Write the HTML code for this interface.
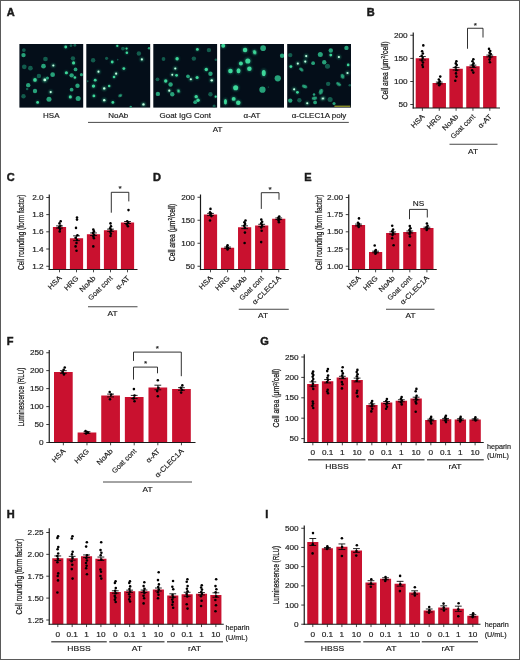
<!DOCTYPE html>
<html lang="en"><head><meta charset="utf-8"><title>Figure</title>
<style>html,body{margin:0;padding:0;background:#fff}svg{display:block;will-change:transform}text{font-family:"Liberation Sans",sans-serif;fill:#1a1a1a;stroke:#1a1a1a;stroke-width:.16px}.b{stroke-width:.45px}.t{stroke-width:.24px}</style></head><body>
<svg width="520" height="660" viewBox="0 0 520 660">
<rect x="0" y="0" width="520" height="660" fill="#fff"/>
<text transform="translate(6.8,16.3) scale(1.04,1)" font-size="10.6" text-anchor="start" font-weight="bold" class="b">A</text>
<defs><filter id="bl" x="-50%" y="-50%" width="200%" height="200%"><feGaussianBlur stdDeviation="0.55"/></filter><filter id="bl2" x="-50%" y="-50%" width="200%" height="200%"><feGaussianBlur stdDeviation="0.9"/></filter><filter id="bl3" x="-50%" y="-50%" width="200%" height="200%"><feGaussianBlur stdDeviation="0.7"/></filter></defs>
<clipPath id="cp0"><rect x="19.4" y="44" width="63.8" height="63.6"/></clipPath>
<rect x="19.4" y="44" width="63.8" height="63.6" fill="#040e19"/>
<g clip-path="url(#cp0)">
<ellipse cx="23.88" cy="50.11" rx="1.88" ry="1.88" fill="#18705a" opacity="0.8" filter="url(#bl3)"/>
<ellipse cx="23.49" cy="55.08" rx="2.2" ry="2.2" fill="#29ae82" opacity="0.92" filter="url(#bl3)"/>
<ellipse cx="65.73" cy="46.97" rx="1.88" ry="1.88" fill="#1c8e6c" opacity="0.55" filter="url(#bl2)"/>
<ellipse cx="65.73" cy="46.97" rx="1.41" ry="1.41" fill="#41df9f" opacity="0.95" filter="url(#bl)"/>
<ellipse cx="70.96" cy="45.66" rx="1.41" ry="1.41" fill="#18705a" opacity="0.8" filter="url(#bl3)"/>
<ellipse cx="74.88" cy="45.27" rx="1.41" ry="1.41" fill="#18705a" opacity="0.8" filter="url(#bl3)"/>
<ellipse cx="45.46" cy="59" rx="2.35" ry="2.35" fill="#18705a" opacity="0.8" filter="url(#bl3)"/>
<ellipse cx="72.92" cy="58.35" rx="2.2" ry="2.2" fill="#18705a" opacity="0.8" filter="url(#bl3)"/>
<ellipse cx="73.58" cy="62.92" rx="2.07" ry="2.07" fill="#1c8e6c" opacity="0.55" filter="url(#bl2)"/>
<ellipse cx="73.58" cy="62.92" rx="1.55" ry="1.55" fill="#41df9f" opacity="0.95" filter="url(#bl)"/>
<ellipse cx="53.31" cy="65.54" rx="1.77" ry="1.77" fill="#2bb687" opacity="0.75" filter="url(#bl2)"/>
<ellipse cx="53.31" cy="65.54" rx="1.06" ry="1.06" fill="#c6ffe2" opacity="1" filter="url(#bl)"/>
<ellipse cx="43.5" cy="66.19" rx="2.35" ry="2.35" fill="#29ae82" opacity="0.92" filter="url(#bl3)"/>
<ellipse cx="24.28" cy="66.85" rx="2.35" ry="2.35" fill="#18705a" opacity="0.8" filter="url(#bl3)"/>
<ellipse cx="30.42" cy="68.15" rx="2.35" ry="2.35" fill="#18705a" opacity="0.8" filter="url(#bl3)"/>
<ellipse cx="75.54" cy="69.46" rx="1.88" ry="1.88" fill="#29ae82" opacity="0.92" filter="url(#bl3)"/>
<ellipse cx="66.38" cy="72.73" rx="2.07" ry="2.07" fill="#1c8e6c" opacity="0.55" filter="url(#bl2)"/>
<ellipse cx="66.38" cy="72.73" rx="1.55" ry="1.55" fill="#41df9f" opacity="0.95" filter="url(#bl)"/>
<ellipse cx="81.42" cy="74.69" rx="1.57" ry="1.57" fill="#29ae82" opacity="0.92" filter="url(#bl3)"/>
<ellipse cx="71.62" cy="75.35" rx="2.2" ry="2.2" fill="#29ae82" opacity="0.92" filter="url(#bl3)"/>
<ellipse cx="74.88" cy="77.57" rx="1.69" ry="1.69" fill="#1c8e6c" opacity="0.55" filter="url(#bl2)"/>
<ellipse cx="74.88" cy="77.57" rx="1.27" ry="1.27" fill="#41df9f" opacity="0.95" filter="url(#bl)"/>
<ellipse cx="52.65" cy="74.69" rx="2.35" ry="2.35" fill="#29ae82" opacity="0.92" filter="url(#bl3)"/>
<ellipse cx="38.92" cy="76" rx="2.2" ry="2.2" fill="#18705a" opacity="0.8" filter="url(#bl3)"/>
<ellipse cx="35" cy="79.92" rx="2.45" ry="2.45" fill="#1c8e6c" opacity="0.55" filter="url(#bl2)"/>
<ellipse cx="35" cy="79.92" rx="1.84" ry="1.84" fill="#41df9f" opacity="0.95" filter="url(#bl)"/>
<ellipse cx="44.81" cy="79.92" rx="2.35" ry="2.35" fill="#2bb687" opacity="0.75" filter="url(#bl2)"/>
<ellipse cx="44.81" cy="79.92" rx="1.41" ry="1.41" fill="#c6ffe2" opacity="1" filter="url(#bl)"/>
<ellipse cx="47.42" cy="77.96" rx="1.57" ry="1.57" fill="#29ae82" opacity="0.92" filter="url(#bl3)"/>
<ellipse cx="28.2" cy="85.15" rx="2.2" ry="2.2" fill="#29ae82" opacity="0.92" filter="url(#bl3)"/>
<ellipse cx="77.5" cy="85.81" rx="2.2" ry="2.2" fill="#29ae82" opacity="0.92" filter="url(#bl3)"/>
<ellipse cx="71.62" cy="89.73" rx="1.88" ry="1.88" fill="#29ae82" opacity="0.92" filter="url(#bl3)"/>
<ellipse cx="35" cy="91.04" rx="2.2" ry="2.2" fill="#29ae82" opacity="0.92" filter="url(#bl3)"/>
<ellipse cx="50.69" cy="92.08" rx="1.77" ry="1.77" fill="#2bb687" opacity="0.75" filter="url(#bl2)"/>
<ellipse cx="50.69" cy="92.08" rx="1.06" ry="1.06" fill="#c6ffe2" opacity="1" filter="url(#bl)"/>
<ellipse cx="23.49" cy="96.27" rx="2.2" ry="2.2" fill="#18705a" opacity="0.8" filter="url(#bl3)"/>
<ellipse cx="70.31" cy="96.92" rx="2.07" ry="2.07" fill="#1c8e6c" opacity="0.55" filter="url(#bl2)"/>
<ellipse cx="70.31" cy="96.92" rx="1.55" ry="1.55" fill="#41df9f" opacity="0.95" filter="url(#bl)"/>
<ellipse cx="78.15" cy="98.49" rx="2.51" ry="2.51" fill="#29ae82" opacity="0.92" filter="url(#bl3)"/>
<ellipse cx="48.99" cy="99.15" rx="2.51" ry="2.51" fill="#29ae82" opacity="0.92" filter="url(#bl3)"/>
<ellipse cx="37.62" cy="102.42" rx="1.88" ry="1.88" fill="#1c8e6c" opacity="0.55" filter="url(#bl2)"/>
<ellipse cx="37.62" cy="102.42" rx="1.41" ry="1.41" fill="#41df9f" opacity="0.95" filter="url(#bl)"/>
<ellipse cx="27.15" cy="89.08" rx="1.26" ry="1.26" fill="#18705a" opacity="0.8" filter="url(#bl3)"/>
</g>
<clipPath id="cp1"><rect x="86.3" y="44" width="63.9" height="63.6"/></clipPath>
<rect x="86.3" y="44" width="63.9" height="63.6" fill="#040e19"/>
<g clip-path="url(#cp1)">
<ellipse cx="117.3" cy="45.92" rx="1.51" ry="1.51" fill="#1c8e6c" opacity="0.55" filter="url(#bl2)"/>
<ellipse cx="117.3" cy="45.92" rx="1.13" ry="1.13" fill="#41df9f" opacity="0.95" filter="url(#bl)"/>
<ellipse cx="122.92" cy="48.54" rx="1.88" ry="1.88" fill="#18705a" opacity="0.8" filter="url(#bl3)"/>
<ellipse cx="126.58" cy="48.54" rx="1.51" ry="1.51" fill="#1c8e6c" opacity="0.55" filter="url(#bl2)"/>
<ellipse cx="126.58" cy="48.54" rx="1.13" ry="1.13" fill="#41df9f" opacity="0.95" filter="url(#bl)"/>
<ellipse cx="126.85" cy="52.72" rx="1.69" ry="1.69" fill="#1c8e6c" opacity="0.55" filter="url(#bl2)"/>
<ellipse cx="126.85" cy="52.72" rx="1.27" ry="1.27" fill="#41df9f" opacity="0.95" filter="url(#bl)"/>
<ellipse cx="149.08" cy="48.28" rx="1.26" ry="1.26" fill="#29ae82" opacity="0.92" filter="url(#bl3)"/>
<ellipse cx="138.88" cy="53.51" rx="2.2" ry="2.2" fill="#18705a" opacity="0.8" filter="url(#bl3)"/>
<ellipse cx="141.88" cy="59.39" rx="1.77" ry="1.77" fill="#2bb687" opacity="0.75" filter="url(#bl2)"/>
<ellipse cx="141.88" cy="59.39" rx="1.06" ry="1.06" fill="#c6ffe2" opacity="1" filter="url(#bl)"/>
<ellipse cx="93.11" cy="60.31" rx="2.2" ry="2.2" fill="#18705a" opacity="0.8" filter="url(#bl3)"/>
<ellipse cx="106.58" cy="58.35" rx="1.57" ry="1.57" fill="#18705a" opacity="0.8" filter="url(#bl3)"/>
<ellipse cx="112.2" cy="62.01" rx="1.88" ry="1.88" fill="#1c8e6c" opacity="0.55" filter="url(#bl2)"/>
<ellipse cx="112.2" cy="62.01" rx="1.41" ry="1.41" fill="#41df9f" opacity="0.95" filter="url(#bl)"/>
<ellipse cx="117.69" cy="59.65" rx="0.78" ry="0.78" fill="#18705a" opacity="0.8" filter="url(#bl3)"/>
<ellipse cx="123.84" cy="68.55" rx="1.88" ry="1.88" fill="#1c8e6c" opacity="0.55" filter="url(#bl2)"/>
<ellipse cx="123.84" cy="68.55" rx="1.41" ry="1.41" fill="#41df9f" opacity="0.95" filter="url(#bl)"/>
<ellipse cx="98.47" cy="71.68" rx="1.77" ry="1.77" fill="#2bb687" opacity="0.75" filter="url(#bl2)"/>
<ellipse cx="98.47" cy="71.68" rx="1.06" ry="1.06" fill="#c6ffe2" opacity="1" filter="url(#bl)"/>
<ellipse cx="116.12" cy="73.65" rx="1.77" ry="1.77" fill="#2bb687" opacity="0.75" filter="url(#bl2)"/>
<ellipse cx="116.12" cy="73.65" rx="1.06" ry="1.06" fill="#c6ffe2" opacity="1" filter="url(#bl)"/>
<ellipse cx="114.03" cy="77.05" rx="1.69" ry="1.69" fill="#1c8e6c" opacity="0.55" filter="url(#bl2)"/>
<ellipse cx="114.03" cy="77.05" rx="1.27" ry="1.27" fill="#41df9f" opacity="0.95" filter="url(#bl)"/>
<ellipse cx="95.2" cy="80.18" rx="1.88" ry="1.88" fill="#1c8e6c" opacity="0.55" filter="url(#bl2)"/>
<ellipse cx="95.2" cy="80.18" rx="1.41" ry="1.41" fill="#41df9f" opacity="0.95" filter="url(#bl)"/>
<ellipse cx="93.5" cy="86.07" rx="2.26" ry="2.26" fill="#1c8e6c" opacity="0.55" filter="url(#bl2)"/>
<ellipse cx="93.5" cy="86.07" rx="1.69" ry="1.69" fill="#41df9f" opacity="0.95" filter="url(#bl)"/>
<ellipse cx="109.19" cy="86.07" rx="1.69" ry="1.69" fill="#1c8e6c" opacity="0.55" filter="url(#bl2)"/>
<ellipse cx="109.19" cy="86.07" rx="1.27" ry="1.27" fill="#41df9f" opacity="0.95" filter="url(#bl)"/>
<ellipse cx="104.22" cy="88.42" rx="1.96" ry="1.96" fill="#2bb687" opacity="0.75" filter="url(#bl2)"/>
<ellipse cx="104.22" cy="88.42" rx="1.18" ry="1.18" fill="#c6ffe2" opacity="1" filter="url(#bl)"/>
<ellipse cx="93.89" cy="95.88" rx="1.88" ry="1.88" fill="#1c8e6c" opacity="0.55" filter="url(#bl2)"/>
<ellipse cx="93.89" cy="95.88" rx="1.41" ry="1.41" fill="#41df9f" opacity="0.95" filter="url(#bl)"/>
<ellipse cx="120.31" cy="95.62" rx="2.04" ry="1.26" fill="#29ae82" opacity="0.92" filter="url(#bl3)" transform="rotate(-25 120.31 95.62)"/>
<ellipse cx="104.22" cy="100.19" rx="1.96" ry="1.96" fill="#2bb687" opacity="0.75" filter="url(#bl2)"/>
<ellipse cx="104.22" cy="100.19" rx="1.18" ry="1.18" fill="#c6ffe2" opacity="1" filter="url(#bl)"/>
<ellipse cx="112.85" cy="102.42" rx="1.88" ry="1.88" fill="#1c8e6c" opacity="0.55" filter="url(#bl2)"/>
<ellipse cx="112.85" cy="102.42" rx="1.41" ry="1.41" fill="#41df9f" opacity="0.95" filter="url(#bl)"/>
<ellipse cx="143.45" cy="104.38" rx="1.96" ry="1.96" fill="#2bb687" opacity="0.75" filter="url(#bl2)"/>
<ellipse cx="143.45" cy="104.38" rx="1.18" ry="1.18" fill="#c6ffe2" opacity="1" filter="url(#bl)"/>
<ellipse cx="130.77" cy="106.99" rx="1.26" ry="1.26" fill="#29ae82" opacity="0.92" filter="url(#bl3)"/>
<ellipse cx="87.62" cy="81.23" rx="0.94" ry="0.94" fill="#18705a" opacity="0.8" filter="url(#bl3)"/>
</g>
<clipPath id="cp2"><rect x="153.3" y="44" width="63.8" height="63.6"/></clipPath>
<rect x="153.3" y="44" width="63.8" height="63.6" fill="#040e19"/>
<g clip-path="url(#cp2)">
<ellipse cx="197.38" cy="49.45" rx="1.88" ry="1.88" fill="#1c8e6c" opacity="0.55" filter="url(#bl2)"/>
<ellipse cx="197.38" cy="49.45" rx="1.41" ry="1.41" fill="#41df9f" opacity="0.95" filter="url(#bl)"/>
<ellipse cx="208.88" cy="50.11" rx="2.2" ry="2.2" fill="#18705a" opacity="0.8" filter="url(#bl3)"/>
<ellipse cx="163.51" cy="59" rx="1.88" ry="1.88" fill="#18705a" opacity="0.8" filter="url(#bl3)"/>
<ellipse cx="177.11" cy="58.74" rx="2.26" ry="2.26" fill="#1c8e6c" opacity="0.55" filter="url(#bl2)"/>
<ellipse cx="177.11" cy="58.74" rx="1.69" ry="1.69" fill="#41df9f" opacity="0.95" filter="url(#bl)"/>
<ellipse cx="193.85" cy="58.61" rx="2.2" ry="2.2" fill="#18705a" opacity="0.8" filter="url(#bl3)"/>
<ellipse cx="215.82" cy="59.65" rx="1.26" ry="1.26" fill="#18705a" opacity="0.8" filter="url(#bl3)"/>
<ellipse cx="175.28" cy="68.55" rx="1.77" ry="1.77" fill="#2bb687" opacity="0.75" filter="url(#bl2)"/>
<ellipse cx="175.28" cy="68.55" rx="1.06" ry="1.06" fill="#c6ffe2" opacity="1" filter="url(#bl)"/>
<ellipse cx="206.27" cy="69.46" rx="2.26" ry="2.26" fill="#1c8e6c" opacity="0.55" filter="url(#bl2)"/>
<ellipse cx="206.27" cy="69.46" rx="1.69" ry="1.69" fill="#41df9f" opacity="0.95" filter="url(#bl)"/>
<ellipse cx="172.27" cy="74.69" rx="1.57" ry="1.57" fill="#2bb687" opacity="0.75" filter="url(#bl2)"/>
<ellipse cx="172.27" cy="74.69" rx="0.94" ry="0.94" fill="#c6ffe2" opacity="1" filter="url(#bl)"/>
<ellipse cx="176.58" cy="75.35" rx="1.88" ry="1.88" fill="#1c8e6c" opacity="0.55" filter="url(#bl2)"/>
<ellipse cx="176.58" cy="75.35" rx="1.41" ry="1.41" fill="#41df9f" opacity="0.95" filter="url(#bl)"/>
<ellipse cx="210.45" cy="73.78" rx="2.2" ry="2.2" fill="#29ae82" opacity="0.92" filter="url(#bl3)"/>
<ellipse cx="187.96" cy="76.26" rx="1.88" ry="1.88" fill="#29ae82" opacity="0.92" filter="url(#bl3)"/>
<ellipse cx="197.12" cy="77.57" rx="2.07" ry="2.07" fill="#1c8e6c" opacity="0.55" filter="url(#bl2)"/>
<ellipse cx="197.12" cy="77.57" rx="1.55" ry="1.55" fill="#41df9f" opacity="0.95" filter="url(#bl)"/>
<ellipse cx="190.84" cy="79.27" rx="1.77" ry="1.77" fill="#2bb687" opacity="0.75" filter="url(#bl2)"/>
<ellipse cx="190.84" cy="79.27" rx="1.06" ry="1.06" fill="#c6ffe2" opacity="1" filter="url(#bl)"/>
<ellipse cx="211.76" cy="80.32" rx="1.96" ry="1.96" fill="#2bb687" opacity="0.75" filter="url(#bl2)"/>
<ellipse cx="211.76" cy="80.32" rx="1.18" ry="1.18" fill="#c6ffe2" opacity="1" filter="url(#bl)"/>
<ellipse cx="157.49" cy="79.27" rx="1.88" ry="1.88" fill="#18705a" opacity="0.8" filter="url(#bl3)"/>
<ellipse cx="165.73" cy="80.97" rx="2.26" ry="2.26" fill="#1c8e6c" opacity="0.55" filter="url(#bl2)"/>
<ellipse cx="165.73" cy="80.97" rx="1.69" ry="1.69" fill="#41df9f" opacity="0.95" filter="url(#bl)"/>
<ellipse cx="170.57" cy="84.5" rx="2.2" ry="2.2" fill="#29ae82" opacity="0.92" filter="url(#bl3)"/>
<ellipse cx="169.26" cy="90.65" rx="1.77" ry="1.77" fill="#2bb687" opacity="0.75" filter="url(#bl2)"/>
<ellipse cx="169.26" cy="90.65" rx="1.06" ry="1.06" fill="#c6ffe2" opacity="1" filter="url(#bl)"/>
<ellipse cx="178.55" cy="91.04" rx="1.69" ry="2.26" fill="#1c8e6c" opacity="0.55" filter="url(#bl2)" transform="rotate(-20 178.55 91.04)"/>
<ellipse cx="178.55" cy="91.04" rx="1.27" ry="1.69" fill="#41df9f" opacity="0.95" filter="url(#bl)" transform="rotate(-20 178.55 91.04)"/>
<ellipse cx="157.88" cy="93.92" rx="2.2" ry="2.2" fill="#29ae82" opacity="0.92" filter="url(#bl3)"/>
<ellipse cx="172.27" cy="94.31" rx="2.2" ry="2.2" fill="#29ae82" opacity="0.92" filter="url(#bl3)"/>
<ellipse cx="210.45" cy="94.31" rx="2.2" ry="2.2" fill="#18705a" opacity="0.8" filter="url(#bl3)"/>
<ellipse cx="215.68" cy="96.66" rx="1.51" ry="1.51" fill="#1c8e6c" opacity="0.55" filter="url(#bl2)"/>
<ellipse cx="215.68" cy="96.66" rx="1.13" ry="1.13" fill="#41df9f" opacity="0.95" filter="url(#bl)"/>
<ellipse cx="196.2" cy="96.66" rx="2.26" ry="2.26" fill="#1c8e6c" opacity="0.55" filter="url(#bl2)"/>
<ellipse cx="196.2" cy="96.66" rx="1.69" ry="1.69" fill="#41df9f" opacity="0.95" filter="url(#bl)"/>
<ellipse cx="198.03" cy="100.19" rx="2.26" ry="2.26" fill="#1c8e6c" opacity="0.55" filter="url(#bl2)"/>
<ellipse cx="198.03" cy="100.19" rx="1.69" ry="1.69" fill="#41df9f" opacity="0.95" filter="url(#bl)"/>
<ellipse cx="195.15" cy="102.15" rx="1.88" ry="1.88" fill="#29ae82" opacity="0.92" filter="url(#bl3)"/>
<ellipse cx="214.12" cy="106.08" rx="1.57" ry="1.57" fill="#18705a" opacity="0.8" filter="url(#bl3)"/>
</g>
<clipPath id="cp3"><rect x="220.2" y="44" width="63.8" height="63.6"/></clipPath>
<rect x="220.2" y="44" width="63.8" height="63.6" fill="#040e19"/>
<g clip-path="url(#cp3)">
<ellipse cx="223.23" cy="45.66" rx="2.64" ry="2.64" fill="#1c8e6c" opacity="0.55" filter="url(#bl2)"/>
<ellipse cx="223.23" cy="45.66" rx="1.98" ry="1.98" fill="#41df9f" opacity="0.95" filter="url(#bl)"/>
<ellipse cx="245.07" cy="50.11" rx="3.01" ry="3.01" fill="#1c8e6c" opacity="0.55" filter="url(#bl2)"/>
<ellipse cx="245.07" cy="50.11" rx="2.26" ry="2.26" fill="#41df9f" opacity="0.95" filter="url(#bl)"/>
<ellipse cx="263.12" cy="48.15" rx="2.82" ry="2.82" fill="#29ae82" opacity="0.92" filter="url(#bl3)"/>
<ellipse cx="254.62" cy="52.2" rx="2.26" ry="3.01" fill="#1c8e6c" opacity="0.55" filter="url(#bl2)" transform="rotate(-20 254.62 52.2)"/>
<ellipse cx="254.62" cy="52.2" rx="1.69" ry="2.26" fill="#41df9f" opacity="0.95" filter="url(#bl)" transform="rotate(-20 254.62 52.2)"/>
<ellipse cx="282.08" cy="55.73" rx="2.2" ry="2.2" fill="#29ae82" opacity="0.92" filter="url(#bl3)"/>
<ellipse cx="247.82" cy="60.96" rx="3.39" ry="3.39" fill="#1c8e6c" opacity="0.55" filter="url(#bl2)"/>
<ellipse cx="247.82" cy="60.96" rx="2.54" ry="2.54" fill="#41df9f" opacity="0.95" filter="url(#bl)"/>
<ellipse cx="240.88" cy="63.58" rx="2.64" ry="2.64" fill="#1c8e6c" opacity="0.55" filter="url(#bl2)"/>
<ellipse cx="240.88" cy="63.58" rx="1.98" ry="1.98" fill="#41df9f" opacity="0.95" filter="url(#bl)"/>
<ellipse cx="249.38" cy="68.81" rx="3.01" ry="3.01" fill="#1c8e6c" opacity="0.55" filter="url(#bl2)"/>
<ellipse cx="249.38" cy="68.81" rx="2.26" ry="2.26" fill="#41df9f" opacity="0.95" filter="url(#bl)"/>
<ellipse cx="230.42" cy="71.03" rx="3.01" ry="3.01" fill="#1c8e6c" opacity="0.55" filter="url(#bl2)"/>
<ellipse cx="230.42" cy="71.03" rx="2.26" ry="2.26" fill="#41df9f" opacity="0.95" filter="url(#bl)"/>
<ellipse cx="238.53" cy="70.77" rx="2.64" ry="3.39" fill="#1c8e6c" opacity="0.55" filter="url(#bl2)"/>
<ellipse cx="238.53" cy="70.77" rx="1.98" ry="2.54" fill="#41df9f" opacity="0.95" filter="url(#bl)"/>
<ellipse cx="263.77" cy="72.99" rx="2.64" ry="4.14" fill="#1c8e6c" opacity="0.55" filter="url(#bl2)"/>
<ellipse cx="263.77" cy="72.99" rx="1.98" ry="3.11" fill="#41df9f" opacity="0.95" filter="url(#bl)"/>
<ellipse cx="277.76" cy="78.35" rx="3.14" ry="3.14" fill="#29ae82" opacity="0.92" filter="url(#bl3)"/>
<ellipse cx="235.65" cy="87.77" rx="3.39" ry="3.39" fill="#1c8e6c" opacity="0.55" filter="url(#bl2)"/>
<ellipse cx="235.65" cy="87.77" rx="2.54" ry="2.54" fill="#41df9f" opacity="0.95" filter="url(#bl)"/>
<ellipse cx="262.46" cy="89.73" rx="3.14" ry="3.14" fill="#29ae82" opacity="0.92" filter="url(#bl3)"/>
<ellipse cx="225.45" cy="101.76" rx="2.07" ry="3.77" fill="#1c8e6c" opacity="0.55" filter="url(#bl2)"/>
<ellipse cx="225.45" cy="101.76" rx="1.55" ry="2.82" fill="#41df9f" opacity="0.95" filter="url(#bl)"/>
<ellipse cx="233.69" cy="98.88" rx="2.64" ry="2.64" fill="#1c8e6c" opacity="0.55" filter="url(#bl2)"/>
<ellipse cx="233.69" cy="98.88" rx="1.98" ry="1.98" fill="#41df9f" opacity="0.95" filter="url(#bl)"/>
<ellipse cx="238.27" cy="102.81" rx="3.01" ry="3.01" fill="#1c8e6c" opacity="0.55" filter="url(#bl2)"/>
<ellipse cx="238.27" cy="102.81" rx="2.26" ry="2.26" fill="#41df9f" opacity="0.95" filter="url(#bl)"/>
<ellipse cx="268.35" cy="87.12" rx="0.63" ry="0.63" fill="#18705a" opacity="0.8" filter="url(#bl3)"/>
</g>
<clipPath id="cp4"><rect x="287.2" y="44" width="63.8" height="63.6"/></clipPath>
<rect x="287.2" y="44" width="63.8" height="63.6" fill="#040e19"/>
<g clip-path="url(#cp4)">
<ellipse cx="346.46" cy="47.88" rx="2.2" ry="2.2" fill="#29ae82" opacity="0.92" filter="url(#bl3)"/>
<ellipse cx="330.77" cy="50.5" rx="2.2" ry="2.2" fill="#29ae82" opacity="0.92" filter="url(#bl3)"/>
<ellipse cx="290.23" cy="55.08" rx="2.2" ry="2.2" fill="#18705a" opacity="0.8" filter="url(#bl3)"/>
<ellipse cx="320.31" cy="54.42" rx="2.51" ry="2.51" fill="#29ae82" opacity="0.92" filter="url(#bl3)"/>
<ellipse cx="306.18" cy="56.12" rx="1.77" ry="1.77" fill="#2bb687" opacity="0.75" filter="url(#bl2)"/>
<ellipse cx="306.18" cy="56.12" rx="1.06" ry="1.06" fill="#c6ffe2" opacity="1" filter="url(#bl)"/>
<ellipse cx="330.77" cy="55.08" rx="1.88" ry="1.88" fill="#1c8e6c" opacity="0.55" filter="url(#bl2)"/>
<ellipse cx="330.77" cy="55.08" rx="1.41" ry="1.41" fill="#41df9f" opacity="0.95" filter="url(#bl)"/>
<ellipse cx="338.88" cy="57.04" rx="1.77" ry="1.77" fill="#2bb687" opacity="0.75" filter="url(#bl2)"/>
<ellipse cx="338.88" cy="57.04" rx="1.06" ry="1.06" fill="#c6ffe2" opacity="1" filter="url(#bl)"/>
<ellipse cx="305.27" cy="61.62" rx="1.77" ry="1.77" fill="#2bb687" opacity="0.75" filter="url(#bl2)"/>
<ellipse cx="305.27" cy="61.62" rx="1.06" ry="1.06" fill="#c6ffe2" opacity="1" filter="url(#bl)"/>
<ellipse cx="297.82" cy="63.58" rx="1.77" ry="1.77" fill="#2bb687" opacity="0.75" filter="url(#bl2)"/>
<ellipse cx="297.82" cy="63.58" rx="1.06" ry="1.06" fill="#c6ffe2" opacity="1" filter="url(#bl)"/>
<ellipse cx="313.12" cy="63.18" rx="1.88" ry="1.88" fill="#29ae82" opacity="0.92" filter="url(#bl3)"/>
<ellipse cx="324.23" cy="62.27" rx="2.2" ry="2.2" fill="#29ae82" opacity="0.92" filter="url(#bl3)"/>
<ellipse cx="327.5" cy="66.19" rx="2.51" ry="2.51" fill="#18705a" opacity="0.8" filter="url(#bl3)"/>
<ellipse cx="348.16" cy="64.88" rx="1.69" ry="1.69" fill="#1c8e6c" opacity="0.55" filter="url(#bl2)"/>
<ellipse cx="348.16" cy="64.88" rx="1.27" ry="1.27" fill="#41df9f" opacity="0.95" filter="url(#bl)"/>
<ellipse cx="290.88" cy="66.58" rx="1.88" ry="1.88" fill="#1c8e6c" opacity="0.55" filter="url(#bl2)"/>
<ellipse cx="290.88" cy="66.58" rx="1.41" ry="1.41" fill="#41df9f" opacity="0.95" filter="url(#bl)"/>
<ellipse cx="301.35" cy="69.46" rx="2.51" ry="1.57" fill="#29ae82" opacity="0.92" filter="url(#bl3)" transform="rotate(40 301.35 69.46)"/>
<ellipse cx="347.51" cy="72.99" rx="1.77" ry="1.77" fill="#2bb687" opacity="0.75" filter="url(#bl2)"/>
<ellipse cx="347.51" cy="72.99" rx="1.06" ry="1.06" fill="#c6ffe2" opacity="1" filter="url(#bl)"/>
<ellipse cx="342.54" cy="76.26" rx="1.88" ry="2.51" fill="#29ae82" opacity="0.92" filter="url(#bl3)" transform="rotate(-20 342.54 76.26)"/>
<ellipse cx="328.15" cy="83.85" rx="2.2" ry="2.2" fill="#18705a" opacity="0.8" filter="url(#bl3)"/>
<ellipse cx="338.62" cy="84.11" rx="2.82" ry="1.73" fill="#29ae82" opacity="0.92" filter="url(#bl3)" transform="rotate(35 338.62 84.11)"/>
<ellipse cx="349.73" cy="85.15" rx="1.26" ry="1.26" fill="#18705a" opacity="0.8" filter="url(#bl3)"/>
<ellipse cx="304.62" cy="86.46" rx="2.82" ry="1.73" fill="#29ae82" opacity="0.92" filter="url(#bl3)" transform="rotate(20 304.62 86.46)"/>
<ellipse cx="294.15" cy="89.34" rx="1.77" ry="1.77" fill="#2bb687" opacity="0.75" filter="url(#bl2)"/>
<ellipse cx="294.15" cy="89.34" rx="1.06" ry="1.06" fill="#c6ffe2" opacity="1" filter="url(#bl)"/>
<ellipse cx="297.42" cy="92.35" rx="1.88" ry="1.88" fill="#1c8e6c" opacity="0.55" filter="url(#bl2)"/>
<ellipse cx="297.42" cy="92.35" rx="1.41" ry="1.41" fill="#41df9f" opacity="0.95" filter="url(#bl)"/>
<ellipse cx="320.96" cy="91.69" rx="1.88" ry="2.82" fill="#29ae82" opacity="0.92" filter="url(#bl3)" transform="rotate(20 320.96 91.69)"/>
<ellipse cx="314.03" cy="94.57" rx="1.26" ry="1.26" fill="#29ae82" opacity="0.92" filter="url(#bl3)"/>
<ellipse cx="314.42" cy="98.23" rx="2.82" ry="1.73" fill="#29ae82" opacity="0.92" filter="url(#bl3)" transform="rotate(-10 314.42 98.23)"/>
<ellipse cx="322.92" cy="98.49" rx="2.35" ry="1.77" fill="#2bb687" opacity="0.75" filter="url(#bl2)" transform="rotate(-20 322.92 98.49)"/>
<ellipse cx="322.92" cy="98.49" rx="1.41" ry="1.06" fill="#c6ffe2" opacity="1" filter="url(#bl)" transform="rotate(-20 322.92 98.49)"/>
<ellipse cx="330.12" cy="99.54" rx="2.51" ry="2.51" fill="#18705a" opacity="0.8" filter="url(#bl3)"/>
<ellipse cx="290.23" cy="100.58" rx="2.2" ry="2.2" fill="#29ae82" opacity="0.92" filter="url(#bl3)"/>
<ellipse cx="299.38" cy="100.19" rx="2.2" ry="2.2" fill="#18705a" opacity="0.8" filter="url(#bl3)"/>
<ellipse cx="307.23" cy="103.2" rx="1.77" ry="1.77" fill="#2bb687" opacity="0.75" filter="url(#bl2)"/>
<ellipse cx="307.23" cy="103.2" rx="1.06" ry="1.06" fill="#c6ffe2" opacity="1" filter="url(#bl)"/>
<ellipse cx="315.08" cy="102.42" rx="1.88" ry="1.88" fill="#29ae82" opacity="0.92" filter="url(#bl3)"/>
<ellipse cx="334.04" cy="103.46" rx="1.57" ry="1.57" fill="#29ae82" opacity="0.92" filter="url(#bl3)"/>
</g>
<line x1="334.4" y1="106.2" x2="350.3" y2="106.2" stroke="#e0e030" stroke-width="0.85"/>
<text transform="translate(51.3,117.5) scale(1.08,1)" font-size="7.4" text-anchor="middle">HSA</text>
<text transform="translate(118.3,117.5) scale(1.08,1)" font-size="7.4" text-anchor="middle">NoAb</text>
<text transform="translate(185.2,117.5) scale(1.08,1)" font-size="7.4" text-anchor="middle">Goat IgG Cont</text>
<text transform="translate(252,117.5) scale(1.08,1)" font-size="7.4" text-anchor="middle">α-AT</text>
<text transform="translate(319,117.5) scale(1.08,1)" font-size="7.4" text-anchor="middle">α-CLEC1A poly</text>
<line x1="88" y1="122.4" x2="348.8" y2="122.4" stroke="#1a1a1a" stroke-width="0.8"/>
<text transform="translate(217.5,132) scale(1.08,1)" font-size="7.4" text-anchor="middle">AT</text>
<text transform="translate(366.8,16.3) scale(1.04,1)" font-size="10.6" text-anchor="start" font-weight="bold" class="b">B</text>
<rect x="415.7" y="58.25" width="13.4" height="49.75" fill="#C9112F"/>
<rect x="432.55" y="83" width="13.4" height="25" fill="#C9112F"/>
<rect x="449.4" y="68.75" width="13.4" height="39.25" fill="#C9112F"/>
<rect x="466.25" y="66.25" width="13.4" height="41.75" fill="#C9112F"/>
<rect x="483.1" y="56" width="13.4" height="52" fill="#C9112F"/>
<line x1="413.25" y1="32.5" x2="413.25" y2="108.55" stroke="#1a1a1a" stroke-width="1.2"/>
<line x1="412.65" y1="108" x2="500" y2="108" stroke="#1a1a1a" stroke-width="1.1"/>
<line x1="410.25" y1="35.25" x2="413.25" y2="35.25" stroke="#1a1a1a" stroke-width="0.85"/>
<text transform="translate(407.65,37.85) scale(1.1,1)" font-size="7.5" text-anchor="end">200</text>
<line x1="410.25" y1="58.4" x2="413.25" y2="58.4" stroke="#1a1a1a" stroke-width="0.85"/>
<text transform="translate(407.65,61) scale(1.1,1)" font-size="7.5" text-anchor="end">150</text>
<line x1="410.25" y1="81.5" x2="413.25" y2="81.5" stroke="#1a1a1a" stroke-width="0.85"/>
<text transform="translate(407.65,84.1) scale(1.1,1)" font-size="7.5" text-anchor="end">100</text>
<line x1="410.25" y1="104.5" x2="413.25" y2="104.5" stroke="#1a1a1a" stroke-width="0.85"/>
<text transform="translate(407.65,107.1) scale(1.1,1)" font-size="7.5" text-anchor="end">50</text>
<text transform="translate(385.6,70.5) rotate(-90)" font-size="8.2" text-anchor="middle" textLength="58" lengthAdjust="spacingAndGlyphs" y="2.3" class="t">Cell area (μm<tspan dy="-2.7" font-size="5.6">2</tspan><tspan dy="2.7">/cell)</tspan></text>
<line x1="422.4" y1="108" x2="422.4" y2="110.8" stroke="#1a1a1a" stroke-width="0.8"/>
<text transform="translate(425,117.2) rotate(-45) scale(1.08,1)" font-size="7.2" text-anchor="end">HSA</text>
<line x1="439.25" y1="108" x2="439.25" y2="110.8" stroke="#1a1a1a" stroke-width="0.8"/>
<text transform="translate(441.85,117.2) rotate(-45) scale(1.08,1)" font-size="7.2" text-anchor="end">HRG</text>
<line x1="456.1" y1="108" x2="456.1" y2="110.8" stroke="#1a1a1a" stroke-width="0.8"/>
<text transform="translate(458.7,117.2) rotate(-45) scale(1.08,1)" font-size="7.2" text-anchor="end">NoAb</text>
<line x1="472.95" y1="108" x2="472.95" y2="110.8" stroke="#1a1a1a" stroke-width="0.8"/>
<text transform="translate(475.55,117.2) rotate(-45) scale(1.0,1)" font-size="7.2" text-anchor="end">Goat cont</text>
<line x1="489.8" y1="108" x2="489.8" y2="110.8" stroke="#1a1a1a" stroke-width="0.8"/>
<text transform="translate(492.4,117.2) rotate(-45) scale(1.08,1)" font-size="7.2" text-anchor="end">α-AT</text>
<g fill="#000">
<line x1="422.4" y1="56.55" x2="422.4" y2="59.95" stroke="#000" stroke-width="0.85"/>
<line x1="419" y1="56.55" x2="425.8" y2="56.55" stroke="#000" stroke-width="0.85"/>
<line x1="419" y1="59.95" x2="425.8" y2="59.95" stroke="#000" stroke-width="0.85"/>
<circle cx="423.3" cy="45.4" r="1.28"/>
<circle cx="422.1" cy="51.3" r="1.28"/>
<circle cx="422.9" cy="53.5" r="1.28"/>
<circle cx="421.7" cy="55.8" r="1.28"/>
<circle cx="422.7" cy="58" r="1.28"/>
<circle cx="421.9" cy="60.5" r="1.28"/>
<circle cx="423" cy="62.5" r="1.28"/>
<circle cx="422.4" cy="65" r="1.28"/>
<circle cx="422.9" cy="67" r="1.28"/>
<line x1="439.25" y1="82.1" x2="439.25" y2="83.9" stroke="#000" stroke-width="0.85"/>
<line x1="435.85" y1="82.1" x2="442.65" y2="82.1" stroke="#000" stroke-width="0.85"/>
<line x1="435.85" y1="83.9" x2="442.65" y2="83.9" stroke="#000" stroke-width="0.85"/>
<circle cx="440.25" cy="76.6" r="1.28"/>
<circle cx="438.85" cy="79.5" r="1.28"/>
<circle cx="439.75" cy="81.2" r="1.28"/>
<circle cx="438.55" cy="83" r="1.28"/>
<circle cx="439.95" cy="83.8" r="1.28"/>
<circle cx="439.25" cy="85.2" r="1.28"/>
<line x1="456.1" y1="67.45" x2="456.1" y2="70.05" stroke="#000" stroke-width="0.85"/>
<line x1="452.7" y1="67.45" x2="459.5" y2="67.45" stroke="#000" stroke-width="0.85"/>
<line x1="452.7" y1="70.05" x2="459.5" y2="70.05" stroke="#000" stroke-width="0.85"/>
<circle cx="456.4" cy="61.3" r="1.28"/>
<circle cx="455.8" cy="63.4" r="1.28"/>
<circle cx="456.7" cy="65.1" r="1.28"/>
<circle cx="455.6" cy="67.4" r="1.28"/>
<circle cx="456.4" cy="70.3" r="1.28"/>
<circle cx="456" cy="73.4" r="1.28"/>
<circle cx="456.4" cy="76.6" r="1.28"/>
<circle cx="455.3" cy="80.7" r="1.28"/>
<line x1="472.95" y1="65.15" x2="472.95" y2="67.35" stroke="#000" stroke-width="0.85"/>
<line x1="469.55" y1="65.15" x2="476.35" y2="65.15" stroke="#000" stroke-width="0.85"/>
<line x1="469.55" y1="67.35" x2="476.35" y2="67.35" stroke="#000" stroke-width="0.85"/>
<circle cx="473.35" cy="59.3" r="1.28"/>
<circle cx="472.45" cy="61.3" r="1.28"/>
<circle cx="473.55" cy="63.4" r="1.28"/>
<circle cx="472.65" cy="65.1" r="1.28"/>
<circle cx="473.55" cy="66.5" r="1.28"/>
<circle cx="472.15" cy="70.3" r="1.28"/>
<circle cx="473.35" cy="72.6" r="1.28"/>
<line x1="489.8" y1="55.1" x2="489.8" y2="56.9" stroke="#000" stroke-width="0.85"/>
<line x1="486.4" y1="55.1" x2="493.2" y2="55.1" stroke="#000" stroke-width="0.85"/>
<line x1="486.4" y1="56.9" x2="493.2" y2="56.9" stroke="#000" stroke-width="0.85"/>
<circle cx="489" cy="48.9" r="1.28"/>
<circle cx="490.2" cy="51" r="1.28"/>
<circle cx="489.5" cy="52.7" r="1.28"/>
<circle cx="490.7" cy="54.1" r="1.28"/>
<circle cx="489.3" cy="55.8" r="1.28"/>
<circle cx="490.2" cy="57.5" r="1.28"/>
<circle cx="489.5" cy="59.6" r="1.28"/>
<circle cx="489.9" cy="62.2" r="1.28"/>
</g>
<polyline points="467.5,48.75 467.5,28.25 483,28.25 483,37.5" fill="none" stroke="#1a1a1a" stroke-width="0.9"/>
<text transform="translate(475.25,27.5) scale(1.1,1)" font-size="7.5" text-anchor="middle">*</text>
<line x1="449.5" y1="144.25" x2="497.5" y2="144.25" stroke="#1a1a1a" stroke-width="0.8"/>
<text transform="translate(473,153.75) scale(1.1,1)" font-size="7.5" text-anchor="middle">AT</text>
<text transform="translate(6.8,180.6) scale(1.04,1)" font-size="10.6" text-anchor="start" font-weight="bold" class="b">C</text>
<rect x="52.9" y="227" width="13.2" height="42.5" fill="#C9112F"/>
<rect x="69.9" y="238.25" width="13.2" height="31.25" fill="#C9112F"/>
<rect x="86.9" y="234.25" width="13.2" height="35.25" fill="#C9112F"/>
<rect x="103.9" y="230.25" width="13.2" height="39.25" fill="#C9112F"/>
<rect x="120.9" y="222.5" width="13.2" height="47" fill="#C9112F"/>
<line x1="49.25" y1="194.5" x2="49.25" y2="270.05" stroke="#1a1a1a" stroke-width="1.2"/>
<line x1="48.65" y1="269.5" x2="137.5" y2="269.5" stroke="#1a1a1a" stroke-width="1.1"/>
<line x1="46.25" y1="197.5" x2="49.25" y2="197.5" stroke="#1a1a1a" stroke-width="0.85"/>
<text transform="translate(43.65,200.1) scale(1.1,1)" font-size="7.5" text-anchor="end">2.0</text>
<line x1="46.25" y1="214.6" x2="49.25" y2="214.6" stroke="#1a1a1a" stroke-width="0.85"/>
<text transform="translate(43.65,217.2) scale(1.1,1)" font-size="7.5" text-anchor="end">1.8</text>
<line x1="46.25" y1="231.8" x2="49.25" y2="231.8" stroke="#1a1a1a" stroke-width="0.85"/>
<text transform="translate(43.65,234.4) scale(1.1,1)" font-size="7.5" text-anchor="end">1.6</text>
<line x1="46.25" y1="249" x2="49.25" y2="249" stroke="#1a1a1a" stroke-width="0.85"/>
<text transform="translate(43.65,251.6) scale(1.1,1)" font-size="7.5" text-anchor="end">1.4</text>
<line x1="46.25" y1="266.25" x2="49.25" y2="266.25" stroke="#1a1a1a" stroke-width="0.85"/>
<text transform="translate(43.65,268.85) scale(1.1,1)" font-size="7.5" text-anchor="end">1.2</text>
<text transform="translate(22,232.25) rotate(-90)" font-size="8.2" text-anchor="middle" textLength="75.5" lengthAdjust="spacingAndGlyphs" y="2.3" class="t">Cell rounding (form factor)</text>
<line x1="59.5" y1="269.5" x2="59.5" y2="272.3" stroke="#1a1a1a" stroke-width="0.8"/>
<text transform="translate(62.1,278.7) rotate(-45) scale(1.08,1)" font-size="7.2" text-anchor="end">HSA</text>
<line x1="76.5" y1="269.5" x2="76.5" y2="272.3" stroke="#1a1a1a" stroke-width="0.8"/>
<text transform="translate(79.1,278.7) rotate(-45) scale(1.08,1)" font-size="7.2" text-anchor="end">HRG</text>
<line x1="93.5" y1="269.5" x2="93.5" y2="272.3" stroke="#1a1a1a" stroke-width="0.8"/>
<text transform="translate(96.1,278.7) rotate(-45) scale(1.08,1)" font-size="7.2" text-anchor="end">NoAb</text>
<line x1="110.5" y1="269.5" x2="110.5" y2="272.3" stroke="#1a1a1a" stroke-width="0.8"/>
<text transform="translate(113.1,278.7) rotate(-45) scale(1.0,1)" font-size="7.2" text-anchor="end">Goat cont</text>
<line x1="127.5" y1="269.5" x2="127.5" y2="272.3" stroke="#1a1a1a" stroke-width="0.8"/>
<text transform="translate(130.1,278.7) rotate(-45) scale(1.08,1)" font-size="7.2" text-anchor="end">α-AT</text>
<g fill="#000">
<line x1="59.5" y1="225.9" x2="59.5" y2="228.1" stroke="#000" stroke-width="0.85"/>
<line x1="56.1" y1="225.9" x2="62.9" y2="225.9" stroke="#000" stroke-width="0.85"/>
<line x1="56.1" y1="228.1" x2="62.9" y2="228.1" stroke="#000" stroke-width="0.85"/>
<circle cx="60.7" cy="221.3" r="1.28"/>
<circle cx="59.5" cy="223.4" r="1.28"/>
<circle cx="60.4" cy="225.7" r="1.28"/>
<circle cx="59" cy="227.4" r="1.28"/>
<circle cx="60" cy="229.1" r="1.28"/>
<circle cx="59.7" cy="231.4" r="1.28"/>
<line x1="76.5" y1="235.85" x2="76.5" y2="240.65" stroke="#000" stroke-width="0.85"/>
<line x1="73.1" y1="235.85" x2="79.9" y2="235.85" stroke="#000" stroke-width="0.85"/>
<line x1="73.1" y1="240.65" x2="79.9" y2="240.65" stroke="#000" stroke-width="0.85"/>
<circle cx="77" cy="217.5" r="1.28"/>
<circle cx="77" cy="219.6" r="1.28"/>
<circle cx="76" cy="227.9" r="1.28"/>
<circle cx="77.4" cy="235.2" r="1.28"/>
<circle cx="75.6" cy="237.8" r="1.28"/>
<circle cx="77" cy="240" r="1.28"/>
<circle cx="76.5" cy="243" r="1.28"/>
<circle cx="75.6" cy="246.4" r="1.28"/>
<circle cx="76.5" cy="250.7" r="1.28"/>
<line x1="93.5" y1="232.95" x2="93.5" y2="235.55" stroke="#000" stroke-width="0.85"/>
<line x1="90.1" y1="232.95" x2="96.9" y2="232.95" stroke="#000" stroke-width="0.85"/>
<line x1="90.1" y1="235.55" x2="96.9" y2="235.55" stroke="#000" stroke-width="0.85"/>
<circle cx="93.3" cy="229.6" r="1.28"/>
<circle cx="94" cy="231.4" r="1.28"/>
<circle cx="93" cy="233.1" r="1.28"/>
<circle cx="94" cy="234.8" r="1.28"/>
<circle cx="93.3" cy="236.6" r="1.28"/>
<circle cx="93.9" cy="238.3" r="1.28"/>
<circle cx="93.3" cy="246.4" r="1.28"/>
<line x1="110.5" y1="229.15" x2="110.5" y2="231.35" stroke="#000" stroke-width="0.85"/>
<line x1="107.1" y1="229.15" x2="113.9" y2="229.15" stroke="#000" stroke-width="0.85"/>
<line x1="107.1" y1="231.35" x2="113.9" y2="231.35" stroke="#000" stroke-width="0.85"/>
<circle cx="110.5" cy="223.4" r="1.28"/>
<circle cx="111" cy="226.2" r="1.28"/>
<circle cx="110.1" cy="228.3" r="1.28"/>
<circle cx="111.2" cy="230" r="1.28"/>
<circle cx="110.3" cy="231.7" r="1.28"/>
<circle cx="110.9" cy="233.8" r="1.28"/>
<circle cx="110.5" cy="236" r="1.28"/>
<line x1="127.5" y1="221.5" x2="127.5" y2="223.5" stroke="#000" stroke-width="0.85"/>
<line x1="124.1" y1="221.5" x2="130.9" y2="221.5" stroke="#000" stroke-width="0.85"/>
<line x1="124.1" y1="223.5" x2="130.9" y2="223.5" stroke="#000" stroke-width="0.85"/>
<circle cx="128.5" cy="210.1" r="1.28"/>
<circle cx="127.2" cy="221.3" r="1.28"/>
<circle cx="128.2" cy="223" r="1.28"/>
<circle cx="126.8" cy="224.4" r="1.28"/>
<circle cx="127.9" cy="226.2" r="1.28"/>
</g>
<polyline points="111.3,212.7 111.3,192.3 128.8,192.3 128.8,201.4" fill="none" stroke="#1a1a1a" stroke-width="0.9"/>
<text transform="translate(120.05,191.2) scale(1.1,1)" font-size="7.5" text-anchor="middle">*</text>
<line x1="88" y1="306.75" x2="137.5" y2="306.75" stroke="#1a1a1a" stroke-width="0.8"/>
<text transform="translate(112.5,315.75) scale(1.1,1)" font-size="7.5" text-anchor="middle">AT</text>
<text transform="translate(153.05,180.6) scale(1.04,1)" font-size="10.6" text-anchor="start" font-weight="bold" class="b">D</text>
<rect x="203.9" y="214.5" width="13.2" height="55" fill="#C9112F"/>
<rect x="220.96" y="247.75" width="13.2" height="21.75" fill="#C9112F"/>
<rect x="238.02" y="227.25" width="13.2" height="42.25" fill="#C9112F"/>
<rect x="255.08" y="225.5" width="13.2" height="44" fill="#C9112F"/>
<rect x="272.14" y="218.75" width="13.2" height="50.75" fill="#C9112F"/>
<line x1="200.5" y1="194.5" x2="200.5" y2="270.05" stroke="#1a1a1a" stroke-width="1.2"/>
<line x1="199.9" y1="269.5" x2="288.75" y2="269.5" stroke="#1a1a1a" stroke-width="1.1"/>
<line x1="197.5" y1="197.25" x2="200.5" y2="197.25" stroke="#1a1a1a" stroke-width="0.85"/>
<text transform="translate(194.9,199.85) scale(1.1,1)" font-size="7.5" text-anchor="end">200</text>
<line x1="197.5" y1="220.25" x2="200.5" y2="220.25" stroke="#1a1a1a" stroke-width="0.85"/>
<text transform="translate(194.9,222.85) scale(1.1,1)" font-size="7.5" text-anchor="end">150</text>
<line x1="197.5" y1="243.25" x2="200.5" y2="243.25" stroke="#1a1a1a" stroke-width="0.85"/>
<text transform="translate(194.9,245.85) scale(1.1,1)" font-size="7.5" text-anchor="end">100</text>
<line x1="197.5" y1="266.25" x2="200.5" y2="266.25" stroke="#1a1a1a" stroke-width="0.85"/>
<text transform="translate(194.9,268.85) scale(1.1,1)" font-size="7.5" text-anchor="end">50</text>
<text transform="translate(172.5,232.5) rotate(-90)" font-size="8.2" text-anchor="middle" textLength="57.5" lengthAdjust="spacingAndGlyphs" y="2.3" class="t">Cell area (μm<tspan dy="-2.7" font-size="5.6">2</tspan><tspan dy="2.7">/cell)</tspan></text>
<line x1="210.5" y1="269.5" x2="210.5" y2="272.3" stroke="#1a1a1a" stroke-width="0.8"/>
<text transform="translate(213.1,278.7) rotate(-45) scale(1.08,1)" font-size="7.2" text-anchor="end">HSA</text>
<line x1="227.56" y1="269.5" x2="227.56" y2="272.3" stroke="#1a1a1a" stroke-width="0.8"/>
<text transform="translate(230.16,278.7) rotate(-45) scale(1.08,1)" font-size="7.2" text-anchor="end">HRG</text>
<line x1="244.62" y1="269.5" x2="244.62" y2="272.3" stroke="#1a1a1a" stroke-width="0.8"/>
<text transform="translate(247.22,278.7) rotate(-45) scale(1.08,1)" font-size="7.2" text-anchor="end">NoAb</text>
<line x1="261.68" y1="269.5" x2="261.68" y2="272.3" stroke="#1a1a1a" stroke-width="0.8"/>
<text transform="translate(264.28,278.7) rotate(-45) scale(1.0,1)" font-size="7.2" text-anchor="end">Goat cont</text>
<line x1="278.74" y1="269.5" x2="278.74" y2="272.3" stroke="#1a1a1a" stroke-width="0.8"/>
<text transform="translate(281.34,278.7) rotate(-45) scale(1.08,1)" font-size="7.2" text-anchor="end">α-CLEC1A</text>
<g fill="#000">
<line x1="210.5" y1="213.4" x2="210.5" y2="215.6" stroke="#000" stroke-width="0.85"/>
<line x1="207.1" y1="213.4" x2="213.9" y2="213.4" stroke="#000" stroke-width="0.85"/>
<line x1="207.1" y1="215.6" x2="213.9" y2="215.6" stroke="#000" stroke-width="0.85"/>
<circle cx="210.5" cy="208.9" r="1.28"/>
<circle cx="210" cy="212.3" r="1.28"/>
<circle cx="211" cy="213.5" r="1.28"/>
<circle cx="210.3" cy="214.8" r="1.28"/>
<circle cx="211.4" cy="216.1" r="1.28"/>
<circle cx="210" cy="220.5" r="1.28"/>
<line x1="227.56" y1="247.05" x2="227.56" y2="248.45" stroke="#000" stroke-width="0.85"/>
<line x1="224.16" y1="247.05" x2="230.96" y2="247.05" stroke="#000" stroke-width="0.85"/>
<line x1="224.16" y1="248.45" x2="230.96" y2="248.45" stroke="#000" stroke-width="0.85"/>
<circle cx="227.56" cy="245.2" r="1.28"/>
<circle cx="227.06" cy="246.9" r="1.28"/>
<circle cx="228.06" cy="248.1" r="1.28"/>
<circle cx="227.56" cy="249.4" r="1.28"/>
<line x1="244.62" y1="225.85" x2="244.62" y2="228.65" stroke="#000" stroke-width="0.85"/>
<line x1="241.22" y1="225.85" x2="248.02" y2="225.85" stroke="#000" stroke-width="0.85"/>
<line x1="241.22" y1="228.65" x2="248.02" y2="228.65" stroke="#000" stroke-width="0.85"/>
<circle cx="245.52" cy="220.5" r="1.28"/>
<circle cx="244.42" cy="222.2" r="1.28"/>
<circle cx="245.12" cy="223.9" r="1.28"/>
<circle cx="244.12" cy="225.7" r="1.28"/>
<circle cx="244.82" cy="227.9" r="1.28"/>
<circle cx="244.92" cy="232.6" r="1.28"/>
<circle cx="244.62" cy="243" r="1.28"/>
<line x1="261.68" y1="224.3" x2="261.68" y2="226.7" stroke="#000" stroke-width="0.85"/>
<line x1="258.28" y1="224.3" x2="265.08" y2="224.3" stroke="#000" stroke-width="0.85"/>
<line x1="258.28" y1="226.7" x2="265.08" y2="226.7" stroke="#000" stroke-width="0.85"/>
<circle cx="261.28" cy="219.6" r="1.28"/>
<circle cx="262.18" cy="221.7" r="1.28"/>
<circle cx="261.18" cy="223.4" r="1.28"/>
<circle cx="262.08" cy="225.1" r="1.28"/>
<circle cx="261.28" cy="227.4" r="1.28"/>
<circle cx="261.68" cy="230.8" r="1.28"/>
<circle cx="261.18" cy="242.1" r="1.28"/>
<line x1="278.74" y1="217.95" x2="278.74" y2="219.55" stroke="#000" stroke-width="0.85"/>
<line x1="275.34" y1="217.95" x2="282.14" y2="217.95" stroke="#000" stroke-width="0.85"/>
<line x1="275.34" y1="219.55" x2="282.14" y2="219.55" stroke="#000" stroke-width="0.85"/>
<circle cx="279.24" cy="216.5" r="1.28"/>
<circle cx="278.34" cy="217.9" r="1.28"/>
<circle cx="279.44" cy="219.3" r="1.28"/>
<circle cx="278.54" cy="220.6" r="1.28"/>
<circle cx="278.94" cy="222.2" r="1.28"/>
</g>
<polyline points="261.3,208.9 261.3,192.7 279,192.7 279,199.7" fill="none" stroke="#1a1a1a" stroke-width="0.9"/>
<text transform="translate(270.15,191.8) scale(1.1,1)" font-size="7.5" text-anchor="middle">*</text>
<line x1="238.75" y1="309.25" x2="288.75" y2="309.25" stroke="#1a1a1a" stroke-width="0.8"/>
<text transform="translate(263,318) scale(1.1,1)" font-size="7.5" text-anchor="middle">AT</text>
<text transform="translate(304.3,180.6) scale(1.04,1)" font-size="10.6" text-anchor="start" font-weight="bold" class="b">E</text>
<rect x="351.9" y="225" width="13.2" height="44.5" fill="#C9112F"/>
<rect x="369" y="252" width="13.2" height="17.5" fill="#C9112F"/>
<rect x="386.1" y="233" width="13.2" height="36.5" fill="#C9112F"/>
<rect x="403.2" y="232" width="13.2" height="37.5" fill="#C9112F"/>
<rect x="420.3" y="228" width="13.2" height="41.5" fill="#C9112F"/>
<line x1="348.75" y1="194.5" x2="348.75" y2="270.05" stroke="#1a1a1a" stroke-width="1.2"/>
<line x1="348.15" y1="269.5" x2="436.75" y2="269.5" stroke="#1a1a1a" stroke-width="1.1"/>
<line x1="345.75" y1="197.5" x2="348.75" y2="197.5" stroke="#1a1a1a" stroke-width="0.85"/>
<text transform="translate(343.15,200.1) scale(1.1,1)" font-size="7.5" text-anchor="end">2.00</text>
<line x1="345.75" y1="214.6" x2="348.75" y2="214.6" stroke="#1a1a1a" stroke-width="0.85"/>
<text transform="translate(343.15,217.2) scale(1.1,1)" font-size="7.5" text-anchor="end">1.75</text>
<line x1="345.75" y1="231.8" x2="348.75" y2="231.8" stroke="#1a1a1a" stroke-width="0.85"/>
<text transform="translate(343.15,234.4) scale(1.1,1)" font-size="7.5" text-anchor="end">1.50</text>
<line x1="345.75" y1="249" x2="348.75" y2="249" stroke="#1a1a1a" stroke-width="0.85"/>
<text transform="translate(343.15,251.6) scale(1.1,1)" font-size="7.5" text-anchor="end">1.25</text>
<line x1="345.75" y1="266.25" x2="348.75" y2="266.25" stroke="#1a1a1a" stroke-width="0.85"/>
<text transform="translate(343.15,268.85) scale(1.1,1)" font-size="7.5" text-anchor="end">1.00</text>
<text transform="translate(319.5,232.25) rotate(-90)" font-size="8.2" text-anchor="middle" textLength="75.5" lengthAdjust="spacingAndGlyphs" y="2.3" class="t">Cell rounding (form factor)</text>
<line x1="358.5" y1="269.5" x2="358.5" y2="272.3" stroke="#1a1a1a" stroke-width="0.8"/>
<text transform="translate(361.1,278.7) rotate(-45) scale(1.08,1)" font-size="7.2" text-anchor="end">HSA</text>
<line x1="375.6" y1="269.5" x2="375.6" y2="272.3" stroke="#1a1a1a" stroke-width="0.8"/>
<text transform="translate(378.2,278.7) rotate(-45) scale(1.08,1)" font-size="7.2" text-anchor="end">HRG</text>
<line x1="392.7" y1="269.5" x2="392.7" y2="272.3" stroke="#1a1a1a" stroke-width="0.8"/>
<text transform="translate(395.3,278.7) rotate(-45) scale(1.08,1)" font-size="7.2" text-anchor="end">NoAb</text>
<line x1="409.8" y1="269.5" x2="409.8" y2="272.3" stroke="#1a1a1a" stroke-width="0.8"/>
<text transform="translate(412.4,278.7) rotate(-45) scale(1.0,1)" font-size="7.2" text-anchor="end">Goat cont</text>
<line x1="426.9" y1="269.5" x2="426.9" y2="272.3" stroke="#1a1a1a" stroke-width="0.8"/>
<text transform="translate(429.5,278.7) rotate(-45) scale(1.08,1)" font-size="7.2" text-anchor="end">α-CLEC1A</text>
<g fill="#000">
<line x1="358.5" y1="224.1" x2="358.5" y2="225.9" stroke="#000" stroke-width="0.85"/>
<line x1="355.1" y1="224.1" x2="361.9" y2="224.1" stroke="#000" stroke-width="0.85"/>
<line x1="355.1" y1="225.9" x2="361.9" y2="225.9" stroke="#000" stroke-width="0.85"/>
<circle cx="359" cy="218.4" r="1.28"/>
<circle cx="358" cy="222.7" r="1.28"/>
<circle cx="359" cy="224.1" r="1.28"/>
<circle cx="358.2" cy="225.4" r="1.28"/>
<circle cx="358.7" cy="227" r="1.28"/>
<line x1="375.6" y1="251.2" x2="375.6" y2="252.8" stroke="#000" stroke-width="0.85"/>
<line x1="372.2" y1="251.2" x2="379" y2="251.2" stroke="#000" stroke-width="0.85"/>
<line x1="372.2" y1="252.8" x2="379" y2="252.8" stroke="#000" stroke-width="0.85"/>
<circle cx="374.7" cy="245.5" r="1.28"/>
<circle cx="375.8" cy="250" r="1.28"/>
<circle cx="375.1" cy="251.4" r="1.28"/>
<circle cx="376.1" cy="252.6" r="1.28"/>
<circle cx="375.4" cy="253.8" r="1.28"/>
<line x1="392.7" y1="231.9" x2="392.7" y2="234.1" stroke="#000" stroke-width="0.85"/>
<line x1="389.3" y1="231.9" x2="396.1" y2="231.9" stroke="#000" stroke-width="0.85"/>
<line x1="389.3" y1="234.1" x2="396.1" y2="234.1" stroke="#000" stroke-width="0.85"/>
<circle cx="392.2" cy="225.8" r="1.28"/>
<circle cx="393.1" cy="229.6" r="1.28"/>
<circle cx="392.2" cy="231.3" r="1.28"/>
<circle cx="393.2" cy="233.1" r="1.28"/>
<circle cx="392.5" cy="235.1" r="1.28"/>
<circle cx="392.2" cy="238.3" r="1.28"/>
<circle cx="393.6" cy="245.2" r="1.28"/>
<line x1="409.8" y1="231" x2="409.8" y2="233" stroke="#000" stroke-width="0.85"/>
<line x1="406.4" y1="231" x2="413.2" y2="231" stroke="#000" stroke-width="0.85"/>
<line x1="406.4" y1="233" x2="413.2" y2="233" stroke="#000" stroke-width="0.85"/>
<circle cx="409.8" cy="226.1" r="1.28"/>
<circle cx="410.5" cy="228.2" r="1.28"/>
<circle cx="409.4" cy="230.1" r="1.28"/>
<circle cx="410.3" cy="231.9" r="1.28"/>
<circle cx="409.6" cy="233.9" r="1.28"/>
<circle cx="410" cy="236.5" r="1.28"/>
<circle cx="409.4" cy="245.2" r="1.28"/>
<line x1="426.9" y1="227.2" x2="426.9" y2="228.8" stroke="#000" stroke-width="0.85"/>
<line x1="423.5" y1="227.2" x2="430.3" y2="227.2" stroke="#000" stroke-width="0.85"/>
<line x1="423.5" y1="228.8" x2="430.3" y2="228.8" stroke="#000" stroke-width="0.85"/>
<circle cx="426.9" cy="223.5" r="1.28"/>
<circle cx="427.6" cy="225.8" r="1.28"/>
<circle cx="426.5" cy="227.2" r="1.28"/>
<circle cx="427.3" cy="228.6" r="1.28"/>
<circle cx="426.7" cy="229.9" r="1.28"/>
</g>
<polyline points="409.5,219.2 409.5,209.4 427.3,209.4 427.3,217.5" fill="none" stroke="#1a1a1a" stroke-width="0.9"/>
<text transform="translate(418.4,205.6) scale(1.1,1)" font-size="7.5" text-anchor="middle">NS</text>
<line x1="386" y1="309.25" x2="434.5" y2="309.25" stroke="#1a1a1a" stroke-width="0.8"/>
<text transform="translate(410.5,318.25) scale(1.1,1)" font-size="7.5" text-anchor="middle">AT</text>
<text transform="translate(6.8,345.1) scale(1.04,1)" font-size="10.6" text-anchor="start" font-weight="bold" class="b">F</text>
<rect x="54" y="372" width="18.7" height="70.5" fill="#C9112F"/>
<rect x="77.62" y="432.5" width="18.7" height="10" fill="#C9112F"/>
<rect x="101.24" y="395.5" width="18.7" height="47" fill="#C9112F"/>
<rect x="124.86" y="397" width="18.7" height="45.5" fill="#C9112F"/>
<rect x="148.48" y="387.5" width="18.7" height="55" fill="#C9112F"/>
<rect x="172.1" y="389" width="18.7" height="53.5" fill="#C9112F"/>
<line x1="49.25" y1="350" x2="49.25" y2="443.05" stroke="#1a1a1a" stroke-width="1.2"/>
<line x1="48.65" y1="442.5" x2="195.5" y2="442.5" stroke="#1a1a1a" stroke-width="1.1"/>
<line x1="46.25" y1="352.75" x2="49.25" y2="352.75" stroke="#1a1a1a" stroke-width="0.85"/>
<text transform="translate(43.65,355.35) scale(1.1,1)" font-size="7.5" text-anchor="end">250</text>
<line x1="46.25" y1="370.6" x2="49.25" y2="370.6" stroke="#1a1a1a" stroke-width="0.85"/>
<text transform="translate(43.65,373.2) scale(1.1,1)" font-size="7.5" text-anchor="end">200</text>
<line x1="46.25" y1="388.6" x2="49.25" y2="388.6" stroke="#1a1a1a" stroke-width="0.85"/>
<text transform="translate(43.65,391.2) scale(1.1,1)" font-size="7.5" text-anchor="end">150</text>
<line x1="46.25" y1="406.6" x2="49.25" y2="406.6" stroke="#1a1a1a" stroke-width="0.85"/>
<text transform="translate(43.65,409.2) scale(1.1,1)" font-size="7.5" text-anchor="end">100</text>
<line x1="46.25" y1="424.5" x2="49.25" y2="424.5" stroke="#1a1a1a" stroke-width="0.85"/>
<text transform="translate(43.65,427.1) scale(1.1,1)" font-size="7.5" text-anchor="end">50</text>
<line x1="46.25" y1="442.5" x2="49.25" y2="442.5" stroke="#1a1a1a" stroke-width="0.85"/>
<text transform="translate(43.65,445.1) scale(1.1,1)" font-size="7.5" text-anchor="end">0</text>
<text transform="translate(22,397) rotate(-90)" font-size="8.2" text-anchor="middle" textLength="58.75" lengthAdjust="spacingAndGlyphs" y="2.3" class="t">Luminescence (RLU)</text>
<line x1="63.35" y1="442.5" x2="63.35" y2="445.3" stroke="#1a1a1a" stroke-width="0.8"/>
<text transform="translate(65.95,451.7) rotate(-45) scale(1.08,1)" font-size="7.2" text-anchor="end">HSA</text>
<line x1="86.97" y1="442.5" x2="86.97" y2="445.3" stroke="#1a1a1a" stroke-width="0.8"/>
<text transform="translate(89.57,451.7) rotate(-45) scale(1.08,1)" font-size="7.2" text-anchor="end">HRG</text>
<line x1="110.59" y1="442.5" x2="110.59" y2="445.3" stroke="#1a1a1a" stroke-width="0.8"/>
<text transform="translate(113.19,451.7) rotate(-45) scale(1.08,1)" font-size="7.2" text-anchor="end">NoAb</text>
<line x1="134.21" y1="442.5" x2="134.21" y2="445.3" stroke="#1a1a1a" stroke-width="0.8"/>
<text transform="translate(136.81,451.7) rotate(-45) scale(1.0,1)" font-size="7.2" text-anchor="end">Goat cont</text>
<line x1="157.83" y1="442.5" x2="157.83" y2="445.3" stroke="#1a1a1a" stroke-width="0.8"/>
<text transform="translate(160.43,451.7) rotate(-45) scale(1.08,1)" font-size="7.2" text-anchor="end">α-AT</text>
<line x1="181.45" y1="442.5" x2="181.45" y2="445.3" stroke="#1a1a1a" stroke-width="0.8"/>
<text transform="translate(184.05,451.7) rotate(-45) scale(1.08,1)" font-size="7.2" text-anchor="end">α-CLEC1A</text>
<g fill="#000">
<line x1="63.35" y1="370.7" x2="63.35" y2="373.3" stroke="#000" stroke-width="0.85"/>
<line x1="59.95" y1="370.7" x2="66.75" y2="370.7" stroke="#000" stroke-width="0.85"/>
<line x1="59.95" y1="373.3" x2="66.75" y2="373.3" stroke="#000" stroke-width="0.85"/>
<circle cx="64.75" cy="367.5" r="1.28"/>
<circle cx="63.65" cy="369.8" r="1.28"/>
<circle cx="62.45" cy="372.1" r="1.28"/>
<circle cx="63.95" cy="374.4" r="1.28"/>
<line x1="86.97" y1="431.7" x2="86.97" y2="433.3" stroke="#000" stroke-width="0.85"/>
<line x1="83.57" y1="431.7" x2="90.37" y2="431.7" stroke="#000" stroke-width="0.85"/>
<line x1="83.57" y1="433.3" x2="90.37" y2="433.3" stroke="#000" stroke-width="0.85"/>
<circle cx="85.57" cy="431" r="1.28"/>
<circle cx="87.27" cy="432.1" r="1.28"/>
<circle cx="86.07" cy="433.5" r="1.28"/>
<circle cx="87.87" cy="432.7" r="1.28"/>
<line x1="110.59" y1="394.1" x2="110.59" y2="396.9" stroke="#000" stroke-width="0.85"/>
<line x1="107.19" y1="394.1" x2="113.99" y2="394.1" stroke="#000" stroke-width="0.85"/>
<line x1="107.19" y1="396.9" x2="113.99" y2="396.9" stroke="#000" stroke-width="0.85"/>
<circle cx="109.69" cy="392" r="1.28"/>
<circle cx="111.19" cy="394.6" r="1.28"/>
<circle cx="109.99" cy="399.2" r="1.28"/>
<line x1="134.21" y1="395.4" x2="134.21" y2="398.6" stroke="#000" stroke-width="0.85"/>
<line x1="130.81" y1="395.4" x2="137.61" y2="395.4" stroke="#000" stroke-width="0.85"/>
<line x1="130.81" y1="398.6" x2="137.61" y2="398.6" stroke="#000" stroke-width="0.85"/>
<circle cx="133.91" cy="389.1" r="1.28"/>
<circle cx="134.51" cy="395.5" r="1.28"/>
<circle cx="133.61" cy="398.4" r="1.28"/>
<circle cx="134.51" cy="401.2" r="1.28"/>
<line x1="157.83" y1="385.2" x2="157.83" y2="389.8" stroke="#000" stroke-width="0.85"/>
<line x1="154.43" y1="385.2" x2="161.23" y2="385.2" stroke="#000" stroke-width="0.85"/>
<line x1="154.43" y1="389.8" x2="161.23" y2="389.8" stroke="#000" stroke-width="0.85"/>
<circle cx="157.83" cy="380.2" r="1.28"/>
<circle cx="158.43" cy="387.7" r="1.28"/>
<circle cx="157.23" cy="391.1" r="1.28"/>
<circle cx="157.83" cy="396.3" r="1.28"/>
<line x1="181.45" y1="387.7" x2="181.45" y2="390.3" stroke="#000" stroke-width="0.85"/>
<line x1="178.05" y1="387.7" x2="184.85" y2="387.7" stroke="#000" stroke-width="0.85"/>
<line x1="178.05" y1="390.3" x2="184.85" y2="390.3" stroke="#000" stroke-width="0.85"/>
<circle cx="182.35" cy="385.4" r="1.28"/>
<circle cx="180.85" cy="387.7" r="1.28"/>
<circle cx="182.05" cy="389.7" r="1.28"/>
<circle cx="181.15" cy="392.6" r="1.28"/>
</g>
<polyline points="133.5,360.9 133.5,352.1 181.3,352.1 181.3,376.2" fill="none" stroke="#1a1a1a" stroke-width="0.9"/>
<text transform="translate(157.4,351) scale(1.1,1)" font-size="7.5" text-anchor="middle">*</text>
<polyline points="133.5,379.6 133.5,367.1 157.5,367.1 157.5,373.3" fill="none" stroke="#1a1a1a" stroke-width="0.9"/>
<text transform="translate(145.5,366) scale(1.1,1)" font-size="7.5" text-anchor="middle">*</text>
<line x1="103" y1="482" x2="192" y2="482" stroke="#1a1a1a" stroke-width="0.8"/>
<text transform="translate(147.5,491.5) scale(1.1,1)" font-size="7.5" text-anchor="middle">AT</text>
<text transform="translate(260.3,345.1) scale(1.04,1)" font-size="10.6" text-anchor="start" font-weight="bold" class="b">G</text>
<rect x="307.15" y="384" width="11.4" height="58.5" fill="#C9112F"/>
<rect x="321.9" y="381.25" width="11.4" height="61.25" fill="#C9112F"/>
<rect x="336.65" y="377.5" width="11.4" height="65" fill="#C9112F"/>
<rect x="351.4" y="380" width="11.4" height="62.5" fill="#C9112F"/>
<rect x="366.15" y="405" width="11.4" height="37.5" fill="#C9112F"/>
<rect x="380.9" y="402.5" width="11.4" height="40" fill="#C9112F"/>
<rect x="395.65" y="400.75" width="11.4" height="41.75" fill="#C9112F"/>
<rect x="410.4" y="398.5" width="11.4" height="44" fill="#C9112F"/>
<rect x="425.15" y="420" width="11.4" height="22.5" fill="#C9112F"/>
<rect x="439.9" y="419.25" width="11.4" height="23.25" fill="#C9112F"/>
<rect x="454.65" y="419.5" width="11.4" height="23" fill="#C9112F"/>
<rect x="469.4" y="419.5" width="11.4" height="23" fill="#C9112F"/>
<line x1="304.25" y1="354.25" x2="304.25" y2="443.05" stroke="#1a1a1a" stroke-width="1.2"/>
<line x1="303.65" y1="442.5" x2="483.75" y2="442.5" stroke="#1a1a1a" stroke-width="1.1"/>
<line x1="301.25" y1="357" x2="304.25" y2="357" stroke="#1a1a1a" stroke-width="0.85"/>
<text transform="translate(298.65,359.6) scale(1.1,1)" font-size="7.5" text-anchor="end">250</text>
<line x1="301.25" y1="377.4" x2="304.25" y2="377.4" stroke="#1a1a1a" stroke-width="0.85"/>
<text transform="translate(298.65,380) scale(1.1,1)" font-size="7.5" text-anchor="end">200</text>
<line x1="301.25" y1="397.8" x2="304.25" y2="397.8" stroke="#1a1a1a" stroke-width="0.85"/>
<text transform="translate(298.65,400.4) scale(1.1,1)" font-size="7.5" text-anchor="end">150</text>
<line x1="301.25" y1="418.2" x2="304.25" y2="418.2" stroke="#1a1a1a" stroke-width="0.85"/>
<text transform="translate(298.65,420.8) scale(1.1,1)" font-size="7.5" text-anchor="end">100</text>
<line x1="301.25" y1="438.6" x2="304.25" y2="438.6" stroke="#1a1a1a" stroke-width="0.85"/>
<text transform="translate(298.65,441.2) scale(1.1,1)" font-size="7.5" text-anchor="end">50</text>
<text transform="translate(277,398) rotate(-90)" font-size="8.2" text-anchor="middle" textLength="58.75" lengthAdjust="spacingAndGlyphs" y="2.3" class="t">Cell area (μm<tspan dy="-2.7" font-size="5.6">2</tspan><tspan dy="2.7">/cell)</tspan></text>
<line x1="312.85" y1="442.5" x2="312.85" y2="445.3" stroke="#1a1a1a" stroke-width="0.8"/>
<text transform="translate(312.85,454.5) scale(1.1,1)" font-size="7.5" text-anchor="middle">0</text>
<line x1="327.6" y1="442.5" x2="327.6" y2="445.3" stroke="#1a1a1a" stroke-width="0.8"/>
<text transform="translate(327.6,454.5) scale(1.1,1)" font-size="7.5" text-anchor="middle">0.1</text>
<line x1="342.35" y1="442.5" x2="342.35" y2="445.3" stroke="#1a1a1a" stroke-width="0.8"/>
<text transform="translate(342.35,454.5) scale(1.1,1)" font-size="7.5" text-anchor="middle">1</text>
<line x1="357.1" y1="442.5" x2="357.1" y2="445.3" stroke="#1a1a1a" stroke-width="0.8"/>
<text transform="translate(357.1,454.5) scale(1.1,1)" font-size="7.5" text-anchor="middle">10</text>
<line x1="371.85" y1="442.5" x2="371.85" y2="445.3" stroke="#1a1a1a" stroke-width="0.8"/>
<text transform="translate(371.85,454.5) scale(1.1,1)" font-size="7.5" text-anchor="middle">0</text>
<line x1="386.6" y1="442.5" x2="386.6" y2="445.3" stroke="#1a1a1a" stroke-width="0.8"/>
<text transform="translate(386.6,454.5) scale(1.1,1)" font-size="7.5" text-anchor="middle">0.1</text>
<line x1="401.35" y1="442.5" x2="401.35" y2="445.3" stroke="#1a1a1a" stroke-width="0.8"/>
<text transform="translate(401.35,454.5) scale(1.1,1)" font-size="7.5" text-anchor="middle">1</text>
<line x1="416.1" y1="442.5" x2="416.1" y2="445.3" stroke="#1a1a1a" stroke-width="0.8"/>
<text transform="translate(416.1,454.5) scale(1.1,1)" font-size="7.5" text-anchor="middle">10</text>
<line x1="430.85" y1="442.5" x2="430.85" y2="445.3" stroke="#1a1a1a" stroke-width="0.8"/>
<text transform="translate(430.85,454.5) scale(1.1,1)" font-size="7.5" text-anchor="middle">0</text>
<line x1="445.6" y1="442.5" x2="445.6" y2="445.3" stroke="#1a1a1a" stroke-width="0.8"/>
<text transform="translate(445.6,454.5) scale(1.1,1)" font-size="7.5" text-anchor="middle">0.1</text>
<line x1="460.35" y1="442.5" x2="460.35" y2="445.3" stroke="#1a1a1a" stroke-width="0.8"/>
<text transform="translate(460.35,454.5) scale(1.1,1)" font-size="7.5" text-anchor="middle">1</text>
<line x1="475.1" y1="442.5" x2="475.1" y2="445.3" stroke="#1a1a1a" stroke-width="0.8"/>
<text transform="translate(475.1,454.5) scale(1.1,1)" font-size="7.5" text-anchor="middle">10</text>
<g fill="#000">
<line x1="312.85" y1="381.9" x2="312.85" y2="386.1" stroke="#000" stroke-width="0.85"/>
<line x1="309.45" y1="381.9" x2="316.25" y2="381.9" stroke="#000" stroke-width="0.85"/>
<line x1="309.45" y1="386.1" x2="316.25" y2="386.1" stroke="#000" stroke-width="0.85"/>
<circle cx="313.15" cy="371.6" r="1.28"/>
<circle cx="312.45" cy="373.4" r="1.28"/>
<circle cx="313.35" cy="375.1" r="1.28"/>
<circle cx="312.65" cy="376.8" r="1.28"/>
<circle cx="313.25" cy="379.1" r="1.28"/>
<circle cx="312.35" cy="381.1" r="1.28"/>
<circle cx="312.95" cy="383.7" r="1.28"/>
<circle cx="312.45" cy="386.3" r="1.28"/>
<circle cx="313.25" cy="388.9" r="1.28"/>
<circle cx="312.75" cy="401.6" r="1.28"/>
<circle cx="313.05" cy="403.6" r="1.28"/>
<circle cx="312.45" cy="405.7" r="1.28"/>
<circle cx="313.25" cy="408" r="1.28"/>
<line x1="327.6" y1="379.55" x2="327.6" y2="382.95" stroke="#000" stroke-width="0.85"/>
<line x1="324.2" y1="379.55" x2="331" y2="379.55" stroke="#000" stroke-width="0.85"/>
<line x1="324.2" y1="382.95" x2="331" y2="382.95" stroke="#000" stroke-width="0.85"/>
<circle cx="327.9" cy="369" r="1.28"/>
<circle cx="327.2" cy="371.1" r="1.28"/>
<circle cx="328.1" cy="375.6" r="1.28"/>
<circle cx="327.4" cy="377.7" r="1.28"/>
<circle cx="328" cy="379.8" r="1.28"/>
<circle cx="327.1" cy="382" r="1.28"/>
<circle cx="327.7" cy="389.8" r="1.28"/>
<circle cx="327.2" cy="391.5" r="1.28"/>
<circle cx="328" cy="393.3" r="1.28"/>
<line x1="342.35" y1="376.3" x2="342.35" y2="378.7" stroke="#000" stroke-width="0.85"/>
<line x1="338.95" y1="376.3" x2="345.75" y2="376.3" stroke="#000" stroke-width="0.85"/>
<line x1="338.95" y1="378.7" x2="345.75" y2="378.7" stroke="#000" stroke-width="0.85"/>
<circle cx="342.65" cy="367.3" r="1.28"/>
<circle cx="341.95" cy="371.1" r="1.28"/>
<circle cx="342.85" cy="373.4" r="1.28"/>
<circle cx="342.15" cy="375.6" r="1.28"/>
<circle cx="342.75" cy="377.7" r="1.28"/>
<circle cx="341.85" cy="382" r="1.28"/>
<circle cx="342.45" cy="384.3" r="1.28"/>
<circle cx="341.95" cy="388.4" r="1.28"/>
<line x1="357.1" y1="378.1" x2="357.1" y2="381.9" stroke="#000" stroke-width="0.85"/>
<line x1="353.7" y1="378.1" x2="360.5" y2="378.1" stroke="#000" stroke-width="0.85"/>
<line x1="353.7" y1="381.9" x2="360.5" y2="381.9" stroke="#000" stroke-width="0.85"/>
<circle cx="357.4" cy="369.9" r="1.28"/>
<circle cx="356.7" cy="372.1" r="1.28"/>
<circle cx="357.6" cy="374.2" r="1.28"/>
<circle cx="356.9" cy="376.3" r="1.28"/>
<circle cx="357.5" cy="378.5" r="1.28"/>
<circle cx="356.6" cy="380.8" r="1.28"/>
<circle cx="357.2" cy="390.7" r="1.28"/>
<circle cx="356.7" cy="392.9" r="1.28"/>
<circle cx="357.5" cy="396.4" r="1.28"/>
<line x1="371.85" y1="403.9" x2="371.85" y2="406.1" stroke="#000" stroke-width="0.85"/>
<line x1="368.45" y1="403.9" x2="375.25" y2="403.9" stroke="#000" stroke-width="0.85"/>
<line x1="368.45" y1="406.1" x2="375.25" y2="406.1" stroke="#000" stroke-width="0.85"/>
<circle cx="372.15" cy="401" r="1.28"/>
<circle cx="371.45" cy="402.8" r="1.28"/>
<circle cx="372.35" cy="404.5" r="1.28"/>
<circle cx="371.65" cy="406.2" r="1.28"/>
<circle cx="372.25" cy="408.8" r="1.28"/>
<circle cx="371.35" cy="411.4" r="1.28"/>
<line x1="386.6" y1="401.5" x2="386.6" y2="403.5" stroke="#000" stroke-width="0.85"/>
<line x1="383.2" y1="401.5" x2="390" y2="401.5" stroke="#000" stroke-width="0.85"/>
<line x1="383.2" y1="403.5" x2="390" y2="403.5" stroke="#000" stroke-width="0.85"/>
<circle cx="386.9" cy="399" r="1.28"/>
<circle cx="386.2" cy="401" r="1.28"/>
<circle cx="387.1" cy="402.8" r="1.28"/>
<circle cx="386.4" cy="404.5" r="1.28"/>
<circle cx="387" cy="406.7" r="1.28"/>
<circle cx="386.1" cy="408.8" r="1.28"/>
<line x1="401.35" y1="399.75" x2="401.35" y2="401.75" stroke="#000" stroke-width="0.85"/>
<line x1="397.95" y1="399.75" x2="404.75" y2="399.75" stroke="#000" stroke-width="0.85"/>
<line x1="397.95" y1="401.75" x2="404.75" y2="401.75" stroke="#000" stroke-width="0.85"/>
<circle cx="401.65" cy="397" r="1.28"/>
<circle cx="400.95" cy="398.7" r="1.28"/>
<circle cx="401.85" cy="400.5" r="1.28"/>
<circle cx="401.15" cy="402.2" r="1.28"/>
<circle cx="401.75" cy="404.4" r="1.28"/>
<line x1="416.1" y1="397.2" x2="416.1" y2="399.8" stroke="#000" stroke-width="0.85"/>
<line x1="412.7" y1="397.2" x2="419.5" y2="397.2" stroke="#000" stroke-width="0.85"/>
<line x1="412.7" y1="399.8" x2="419.5" y2="399.8" stroke="#000" stroke-width="0.85"/>
<circle cx="416.4" cy="388.9" r="1.28"/>
<circle cx="415.7" cy="391.3" r="1.28"/>
<circle cx="416.6" cy="395.8" r="1.28"/>
<circle cx="415.9" cy="397.9" r="1.28"/>
<circle cx="416.5" cy="399.6" r="1.28"/>
<circle cx="415.6" cy="401.7" r="1.28"/>
<circle cx="416.2" cy="403.4" r="1.28"/>
<circle cx="415.7" cy="411.7" r="1.28"/>
<line x1="430.85" y1="419.2" x2="430.85" y2="420.8" stroke="#000" stroke-width="0.85"/>
<line x1="427.45" y1="419.2" x2="434.25" y2="419.2" stroke="#000" stroke-width="0.85"/>
<line x1="427.45" y1="420.8" x2="434.25" y2="420.8" stroke="#000" stroke-width="0.85"/>
<circle cx="431.15" cy="416.9" r="1.28"/>
<circle cx="430.45" cy="418.6" r="1.28"/>
<circle cx="431.35" cy="420" r="1.28"/>
<circle cx="430.65" cy="421.7" r="1.28"/>
<circle cx="431.25" cy="423.5" r="1.28"/>
<line x1="445.6" y1="418.45" x2="445.6" y2="420.05" stroke="#000" stroke-width="0.85"/>
<line x1="442.2" y1="418.45" x2="449" y2="418.45" stroke="#000" stroke-width="0.85"/>
<line x1="442.2" y1="420.05" x2="449" y2="420.05" stroke="#000" stroke-width="0.85"/>
<circle cx="445.9" cy="415.7" r="1.28"/>
<circle cx="445.2" cy="417.4" r="1.28"/>
<circle cx="446.1" cy="419" r="1.28"/>
<circle cx="445.4" cy="420.4" r="1.28"/>
<circle cx="446" cy="422.1" r="1.28"/>
<line x1="460.35" y1="418.8" x2="460.35" y2="420.2" stroke="#000" stroke-width="0.85"/>
<line x1="456.95" y1="418.8" x2="463.75" y2="418.8" stroke="#000" stroke-width="0.85"/>
<line x1="456.95" y1="420.2" x2="463.75" y2="420.2" stroke="#000" stroke-width="0.85"/>
<circle cx="460.65" cy="416.9" r="1.28"/>
<circle cx="459.95" cy="418.6" r="1.28"/>
<circle cx="460.85" cy="420" r="1.28"/>
<circle cx="460.15" cy="421.4" r="1.28"/>
<line x1="475.1" y1="418.9" x2="475.1" y2="420.1" stroke="#000" stroke-width="0.85"/>
<line x1="471.7" y1="418.9" x2="478.5" y2="418.9" stroke="#000" stroke-width="0.85"/>
<line x1="471.7" y1="420.1" x2="478.5" y2="420.1" stroke="#000" stroke-width="0.85"/>
<circle cx="475.4" cy="417.4" r="1.28"/>
<circle cx="474.7" cy="419" r="1.28"/>
<circle cx="475.6" cy="420.4" r="1.28"/>
</g>
<line x1="308" y1="459.75" x2="365.5" y2="459.75" stroke="#5c5c5c" stroke-width="1.45"/>
<text transform="translate(337,469.25) scale(1.1,1)" font-size="7.8" text-anchor="middle">HBSS</text>
<line x1="368" y1="459.75" x2="424.5" y2="459.75" stroke="#5c5c5c" stroke-width="1.45"/>
<text transform="translate(397,469.25) scale(1.1,1)" font-size="7.8" text-anchor="middle">AT</text>
<line x1="427" y1="459.75" x2="483.75" y2="459.75" stroke="#5c5c5c" stroke-width="1.45"/>
<text transform="translate(455,469.25) scale(1.1,1)" font-size="7.8" text-anchor="middle">rAT</text>
<text transform="translate(486.9,448.5) scale(1.03,1)" font-size="7" text-anchor="start">heparin</text>
<text transform="translate(486.9,457.8) scale(1.03,1)" font-size="7" text-anchor="start">(U/mL)</text>
<text transform="translate(6.8,518.1) scale(1.04,1)" font-size="10.6" text-anchor="start" font-weight="bold" class="b">H</text>
<rect x="52.25" y="558.25" width="11.1" height="66" fill="#C9112F"/>
<rect x="66.62" y="558.25" width="11.1" height="66" fill="#C9112F"/>
<rect x="80.99" y="556.25" width="11.1" height="68" fill="#C9112F"/>
<rect x="95.36" y="558.75" width="11.1" height="65.5" fill="#C9112F"/>
<rect x="109.73" y="592" width="11.1" height="32.25" fill="#C9112F"/>
<rect x="124.1" y="591.25" width="11.1" height="33" fill="#C9112F"/>
<rect x="138.47" y="591.25" width="11.1" height="33" fill="#C9112F"/>
<rect x="152.84" y="589.5" width="11.1" height="34.75" fill="#C9112F"/>
<rect x="167.21" y="595.5" width="11.1" height="28.75" fill="#C9112F"/>
<rect x="181.58" y="594.25" width="11.1" height="30" fill="#C9112F"/>
<rect x="195.95" y="593.75" width="11.1" height="30.5" fill="#C9112F"/>
<rect x="210.32" y="595" width="11.1" height="29.25" fill="#C9112F"/>
<line x1="49.25" y1="528.25" x2="49.25" y2="624.8" stroke="#1a1a1a" stroke-width="1.2"/>
<line x1="48.65" y1="624.25" x2="223.75" y2="624.25" stroke="#1a1a1a" stroke-width="1.1"/>
<line x1="46.25" y1="532.5" x2="49.25" y2="532.5" stroke="#1a1a1a" stroke-width="0.85"/>
<text transform="translate(43.65,535.1) scale(1.1,1)" font-size="7.5" text-anchor="end">2.25</text>
<line x1="46.25" y1="554.35" x2="49.25" y2="554.35" stroke="#1a1a1a" stroke-width="0.85"/>
<text transform="translate(43.65,556.95) scale(1.1,1)" font-size="7.5" text-anchor="end">2.00</text>
<line x1="46.25" y1="576.2" x2="49.25" y2="576.2" stroke="#1a1a1a" stroke-width="0.85"/>
<text transform="translate(43.65,578.8) scale(1.1,1)" font-size="7.5" text-anchor="end">1.75</text>
<line x1="46.25" y1="598.1" x2="49.25" y2="598.1" stroke="#1a1a1a" stroke-width="0.85"/>
<text transform="translate(43.65,600.7) scale(1.1,1)" font-size="7.5" text-anchor="end">1.50</text>
<line x1="46.25" y1="620" x2="49.25" y2="620" stroke="#1a1a1a" stroke-width="0.85"/>
<text transform="translate(43.65,622.6) scale(1.1,1)" font-size="7.5" text-anchor="end">1.25</text>
<text transform="translate(20,576.5) rotate(-90)" font-size="8.2" text-anchor="middle" textLength="75.75" lengthAdjust="spacingAndGlyphs" y="2.3" class="t">Cell rounding (form factor)</text>
<line x1="57.8" y1="624.25" x2="57.8" y2="627.05" stroke="#1a1a1a" stroke-width="0.8"/>
<text transform="translate(57.8,637) scale(1.1,1)" font-size="7.5" text-anchor="middle">0</text>
<line x1="72.17" y1="624.25" x2="72.17" y2="627.05" stroke="#1a1a1a" stroke-width="0.8"/>
<text transform="translate(72.17,637) scale(1.1,1)" font-size="7.5" text-anchor="middle">0.1</text>
<line x1="86.54" y1="624.25" x2="86.54" y2="627.05" stroke="#1a1a1a" stroke-width="0.8"/>
<text transform="translate(86.54,637) scale(1.1,1)" font-size="7.5" text-anchor="middle">1</text>
<line x1="100.91" y1="624.25" x2="100.91" y2="627.05" stroke="#1a1a1a" stroke-width="0.8"/>
<text transform="translate(100.91,637) scale(1.1,1)" font-size="7.5" text-anchor="middle">10</text>
<line x1="115.28" y1="624.25" x2="115.28" y2="627.05" stroke="#1a1a1a" stroke-width="0.8"/>
<text transform="translate(115.28,637) scale(1.1,1)" font-size="7.5" text-anchor="middle">0</text>
<line x1="129.65" y1="624.25" x2="129.65" y2="627.05" stroke="#1a1a1a" stroke-width="0.8"/>
<text transform="translate(129.65,637) scale(1.1,1)" font-size="7.5" text-anchor="middle">0.1</text>
<line x1="144.02" y1="624.25" x2="144.02" y2="627.05" stroke="#1a1a1a" stroke-width="0.8"/>
<text transform="translate(144.02,637) scale(1.1,1)" font-size="7.5" text-anchor="middle">1</text>
<line x1="158.39" y1="624.25" x2="158.39" y2="627.05" stroke="#1a1a1a" stroke-width="0.8"/>
<text transform="translate(158.39,637) scale(1.1,1)" font-size="7.5" text-anchor="middle">10</text>
<line x1="172.76" y1="624.25" x2="172.76" y2="627.05" stroke="#1a1a1a" stroke-width="0.8"/>
<text transform="translate(172.76,637) scale(1.1,1)" font-size="7.5" text-anchor="middle">0</text>
<line x1="187.13" y1="624.25" x2="187.13" y2="627.05" stroke="#1a1a1a" stroke-width="0.8"/>
<text transform="translate(187.13,637) scale(1.1,1)" font-size="7.5" text-anchor="middle">0.1</text>
<line x1="201.5" y1="624.25" x2="201.5" y2="627.05" stroke="#1a1a1a" stroke-width="0.8"/>
<text transform="translate(201.5,637) scale(1.1,1)" font-size="7.5" text-anchor="middle">1</text>
<line x1="215.87" y1="624.25" x2="215.87" y2="627.05" stroke="#1a1a1a" stroke-width="0.8"/>
<text transform="translate(215.87,637) scale(1.1,1)" font-size="7.5" text-anchor="middle">10</text>
<g fill="#000">
<line x1="57.8" y1="555.95" x2="57.8" y2="560.55" stroke="#000" stroke-width="0.85"/>
<line x1="54.4" y1="555.95" x2="61.2" y2="555.95" stroke="#000" stroke-width="0.85"/>
<line x1="54.4" y1="560.55" x2="61.2" y2="560.55" stroke="#000" stroke-width="0.85"/>
<circle cx="58.1" cy="536.2" r="1.28"/>
<circle cx="57.4" cy="538" r="1.28"/>
<circle cx="58.3" cy="547.1" r="1.28"/>
<circle cx="57.6" cy="549.2" r="1.28"/>
<circle cx="58.2" cy="553.5" r="1.28"/>
<circle cx="57.3" cy="556.1" r="1.28"/>
<circle cx="57.9" cy="558.7" r="1.28"/>
<circle cx="57.4" cy="562.2" r="1.28"/>
<circle cx="58.2" cy="573.4" r="1.28"/>
<circle cx="57.7" cy="576" r="1.28"/>
<circle cx="58" cy="580.4" r="1.28"/>
<circle cx="57.4" cy="592.5" r="1.28"/>
<line x1="72.17" y1="556.35" x2="72.17" y2="560.15" stroke="#000" stroke-width="0.85"/>
<line x1="68.77" y1="556.35" x2="75.57" y2="556.35" stroke="#000" stroke-width="0.85"/>
<line x1="68.77" y1="560.15" x2="75.57" y2="560.15" stroke="#000" stroke-width="0.85"/>
<circle cx="72.47" cy="536.2" r="1.28"/>
<circle cx="71.77" cy="538.5" r="1.28"/>
<circle cx="72.67" cy="551.8" r="1.28"/>
<circle cx="71.97" cy="554.4" r="1.28"/>
<circle cx="72.57" cy="557.9" r="1.28"/>
<circle cx="71.67" cy="561.3" r="1.28"/>
<circle cx="72.27" cy="564.8" r="1.28"/>
<circle cx="71.77" cy="569.1" r="1.28"/>
<circle cx="72.57" cy="578.6" r="1.28"/>
<line x1="86.54" y1="554.95" x2="86.54" y2="557.55" stroke="#000" stroke-width="0.85"/>
<line x1="83.14" y1="554.95" x2="89.94" y2="554.95" stroke="#000" stroke-width="0.85"/>
<line x1="83.14" y1="557.55" x2="89.94" y2="557.55" stroke="#000" stroke-width="0.85"/>
<circle cx="86.84" cy="542.3" r="1.28"/>
<circle cx="86.14" cy="546.6" r="1.28"/>
<circle cx="87.04" cy="555.3" r="1.28"/>
<circle cx="86.34" cy="557.9" r="1.28"/>
<circle cx="86.94" cy="560.5" r="1.28"/>
<circle cx="86.04" cy="563" r="1.28"/>
<circle cx="86.64" cy="565.7" r="1.28"/>
<circle cx="86.14" cy="568.2" r="1.28"/>
<circle cx="86.94" cy="574.3" r="1.28"/>
<line x1="100.91" y1="557.05" x2="100.91" y2="560.45" stroke="#000" stroke-width="0.85"/>
<line x1="97.51" y1="557.05" x2="104.31" y2="557.05" stroke="#000" stroke-width="0.85"/>
<line x1="97.51" y1="560.45" x2="104.31" y2="560.45" stroke="#000" stroke-width="0.85"/>
<circle cx="101.21" cy="542.3" r="1.28"/>
<circle cx="100.51" cy="550.1" r="1.28"/>
<circle cx="101.41" cy="552.7" r="1.28"/>
<circle cx="100.71" cy="555.3" r="1.28"/>
<circle cx="101.31" cy="559.6" r="1.28"/>
<circle cx="100.41" cy="569.6" r="1.28"/>
<circle cx="101.01" cy="571.7" r="1.28"/>
<circle cx="100.51" cy="576" r="1.28"/>
<circle cx="101.31" cy="578.6" r="1.28"/>
<line x1="115.28" y1="590.8" x2="115.28" y2="593.2" stroke="#000" stroke-width="0.85"/>
<line x1="111.88" y1="590.8" x2="118.68" y2="590.8" stroke="#000" stroke-width="0.85"/>
<line x1="111.88" y1="593.2" x2="118.68" y2="593.2" stroke="#000" stroke-width="0.85"/>
<circle cx="115.58" cy="581.2" r="1.28"/>
<circle cx="114.88" cy="583" r="1.28"/>
<circle cx="115.78" cy="588.1" r="1.28"/>
<circle cx="115.08" cy="590.7" r="1.28"/>
<circle cx="115.68" cy="593.3" r="1.28"/>
<circle cx="114.78" cy="595.9" r="1.28"/>
<circle cx="115.38" cy="597.7" r="1.28"/>
<circle cx="114.88" cy="599.7" r="1.28"/>
<circle cx="115.68" cy="602" r="1.28"/>
<line x1="129.65" y1="590.15" x2="129.65" y2="592.35" stroke="#000" stroke-width="0.85"/>
<line x1="126.25" y1="590.15" x2="133.05" y2="590.15" stroke="#000" stroke-width="0.85"/>
<line x1="126.25" y1="592.35" x2="133.05" y2="592.35" stroke="#000" stroke-width="0.85"/>
<circle cx="129.95" cy="581.2" r="1.28"/>
<circle cx="129.25" cy="583" r="1.28"/>
<circle cx="130.15" cy="586.4" r="1.28"/>
<circle cx="129.45" cy="589" r="1.28"/>
<circle cx="130.05" cy="591.6" r="1.28"/>
<circle cx="129.15" cy="594.2" r="1.28"/>
<circle cx="129.75" cy="596.8" r="1.28"/>
<circle cx="129.25" cy="599.4" r="1.28"/>
<circle cx="130.05" cy="601.5" r="1.28"/>
<line x1="144.02" y1="590.05" x2="144.02" y2="592.45" stroke="#000" stroke-width="0.85"/>
<line x1="140.62" y1="590.05" x2="147.42" y2="590.05" stroke="#000" stroke-width="0.85"/>
<line x1="140.62" y1="592.45" x2="147.42" y2="592.45" stroke="#000" stroke-width="0.85"/>
<circle cx="144.32" cy="582.3" r="1.28"/>
<circle cx="143.62" cy="586.1" r="1.28"/>
<circle cx="144.52" cy="588.7" r="1.28"/>
<circle cx="143.82" cy="591" r="1.28"/>
<circle cx="144.42" cy="593.1" r="1.28"/>
<circle cx="143.52" cy="595.7" r="1.28"/>
<circle cx="144.12" cy="598.3" r="1.28"/>
<circle cx="143.62" cy="603.4" r="1.28"/>
<line x1="158.39" y1="588" x2="158.39" y2="591" stroke="#000" stroke-width="0.85"/>
<line x1="154.99" y1="588" x2="161.79" y2="588" stroke="#000" stroke-width="0.85"/>
<line x1="154.99" y1="591" x2="161.79" y2="591" stroke="#000" stroke-width="0.85"/>
<circle cx="158.69" cy="572.3" r="1.28"/>
<circle cx="157.99" cy="580.1" r="1.28"/>
<circle cx="158.89" cy="584.4" r="1.28"/>
<circle cx="158.19" cy="587" r="1.28"/>
<circle cx="158.79" cy="589.6" r="1.28"/>
<circle cx="157.89" cy="592.2" r="1.28"/>
<circle cx="158.49" cy="594.8" r="1.28"/>
<circle cx="157.99" cy="598.3" r="1.28"/>
<line x1="172.76" y1="593.8" x2="172.76" y2="597.2" stroke="#000" stroke-width="0.85"/>
<line x1="169.36" y1="593.8" x2="176.16" y2="593.8" stroke="#000" stroke-width="0.85"/>
<line x1="169.36" y1="597.2" x2="176.16" y2="597.2" stroke="#000" stroke-width="0.85"/>
<circle cx="173.06" cy="581" r="1.28"/>
<circle cx="172.36" cy="586.7" r="1.28"/>
<circle cx="173.26" cy="589.3" r="1.28"/>
<circle cx="172.56" cy="595.1" r="1.28"/>
<circle cx="173.16" cy="597.4" r="1.28"/>
<circle cx="172.26" cy="599.6" r="1.28"/>
<circle cx="172.86" cy="602.1" r="1.28"/>
<circle cx="172.36" cy="604.8" r="1.28"/>
<circle cx="173.16" cy="607.8" r="1.28"/>
<line x1="187.13" y1="592.25" x2="187.13" y2="596.25" stroke="#000" stroke-width="0.85"/>
<line x1="183.73" y1="592.25" x2="190.53" y2="592.25" stroke="#000" stroke-width="0.85"/>
<line x1="183.73" y1="596.25" x2="190.53" y2="596.25" stroke="#000" stroke-width="0.85"/>
<circle cx="187.43" cy="579.2" r="1.28"/>
<circle cx="186.73" cy="581.8" r="1.28"/>
<circle cx="187.63" cy="586.1" r="1.28"/>
<circle cx="186.93" cy="588.7" r="1.28"/>
<circle cx="187.53" cy="591.3" r="1.28"/>
<circle cx="186.63" cy="593.9" r="1.28"/>
<circle cx="187.23" cy="596.5" r="1.28"/>
<circle cx="186.73" cy="604.3" r="1.28"/>
<circle cx="187.53" cy="608.6" r="1.28"/>
<line x1="201.5" y1="592.55" x2="201.5" y2="594.95" stroke="#000" stroke-width="0.85"/>
<line x1="198.1" y1="592.55" x2="204.9" y2="592.55" stroke="#000" stroke-width="0.85"/>
<line x1="198.1" y1="594.95" x2="204.9" y2="594.95" stroke="#000" stroke-width="0.85"/>
<circle cx="201.8" cy="585.3" r="1.28"/>
<circle cx="201.1" cy="587.5" r="1.28"/>
<circle cx="202" cy="589.6" r="1.28"/>
<circle cx="201.3" cy="591.7" r="1.28"/>
<circle cx="201.9" cy="593.9" r="1.28"/>
<circle cx="201" cy="596.2" r="1.28"/>
<circle cx="201.6" cy="600.8" r="1.28"/>
<circle cx="201.1" cy="606" r="1.28"/>
<line x1="215.87" y1="592.8" x2="215.87" y2="597.2" stroke="#000" stroke-width="0.85"/>
<line x1="212.47" y1="592.8" x2="219.27" y2="592.8" stroke="#000" stroke-width="0.85"/>
<line x1="212.47" y1="597.2" x2="219.27" y2="597.2" stroke="#000" stroke-width="0.85"/>
<circle cx="216.17" cy="579.2" r="1.28"/>
<circle cx="215.47" cy="586.1" r="1.28"/>
<circle cx="216.37" cy="589.3" r="1.28"/>
<circle cx="215.67" cy="592.2" r="1.28"/>
<circle cx="216.27" cy="596.5" r="1.28"/>
<circle cx="215.37" cy="600" r="1.28"/>
<circle cx="215.97" cy="605.2" r="1.28"/>
<circle cx="215.47" cy="611.2" r="1.28"/>
</g>
<line x1="51.25" y1="641.75" x2="106.75" y2="641.75" stroke="#5c5c5c" stroke-width="1.45"/>
<text transform="translate(79,651.25) scale(1.1,1)" font-size="7.8" text-anchor="middle">HBSS</text>
<line x1="109.25" y1="641.75" x2="164.5" y2="641.75" stroke="#5c5c5c" stroke-width="1.45"/>
<text transform="translate(137,651.25) scale(1.1,1)" font-size="7.8" text-anchor="middle">AT</text>
<line x1="167" y1="641.75" x2="223" y2="641.75" stroke="#5c5c5c" stroke-width="1.45"/>
<text transform="translate(194.5,651.25) scale(1.1,1)" font-size="7.8" text-anchor="middle">rAT</text>
<text transform="translate(225.6,630.4) scale(1.03,1)" font-size="7" text-anchor="start">heparin</text>
<text transform="translate(225.6,639.7) scale(1.03,1)" font-size="7" text-anchor="start">(U/mL)</text>
<text transform="translate(265.3,518.1) scale(1.04,1)" font-size="10.6" text-anchor="start" font-weight="bold" class="b">I</text>
<rect x="307.25" y="542" width="11.1" height="82.25" fill="#C9112F"/>
<rect x="321.8" y="548.25" width="11.1" height="76" fill="#C9112F"/>
<rect x="336.35" y="546.75" width="11.1" height="77.5" fill="#C9112F"/>
<rect x="350.9" y="550.5" width="11.1" height="73.75" fill="#C9112F"/>
<rect x="365.45" y="582.5" width="11.1" height="41.75" fill="#C9112F"/>
<rect x="380" y="578.75" width="11.1" height="45.5" fill="#C9112F"/>
<rect x="394.55" y="583.75" width="11.1" height="40.5" fill="#C9112F"/>
<rect x="409.1" y="592.5" width="11.1" height="31.75" fill="#C9112F"/>
<rect x="423.65" y="610.5" width="11.1" height="13.75" fill="#C9112F"/>
<rect x="438.2" y="607.5" width="11.1" height="16.75" fill="#C9112F"/>
<rect x="452.75" y="608.75" width="11.1" height="15.5" fill="#C9112F"/>
<rect x="467.3" y="615.75" width="11.1" height="8.5" fill="#C9112F"/>
<line x1="304.25" y1="525.5" x2="304.25" y2="624.8" stroke="#1a1a1a" stroke-width="1.2"/>
<line x1="303.65" y1="624.25" x2="480.5" y2="624.25" stroke="#1a1a1a" stroke-width="1.1"/>
<line x1="301.25" y1="528.25" x2="304.25" y2="528.25" stroke="#1a1a1a" stroke-width="0.85"/>
<text transform="translate(298.65,530.85) scale(1.1,1)" font-size="7.5" text-anchor="end">500</text>
<line x1="301.25" y1="547.45" x2="304.25" y2="547.45" stroke="#1a1a1a" stroke-width="0.85"/>
<text transform="translate(298.65,550.05) scale(1.1,1)" font-size="7.5" text-anchor="end">400</text>
<line x1="301.25" y1="566.65" x2="304.25" y2="566.65" stroke="#1a1a1a" stroke-width="0.85"/>
<text transform="translate(298.65,569.25) scale(1.1,1)" font-size="7.5" text-anchor="end">300</text>
<line x1="301.25" y1="585.85" x2="304.25" y2="585.85" stroke="#1a1a1a" stroke-width="0.85"/>
<text transform="translate(298.65,588.45) scale(1.1,1)" font-size="7.5" text-anchor="end">200</text>
<line x1="301.25" y1="605.05" x2="304.25" y2="605.05" stroke="#1a1a1a" stroke-width="0.85"/>
<text transform="translate(298.65,607.65) scale(1.1,1)" font-size="7.5" text-anchor="end">100</text>
<line x1="301.25" y1="624.25" x2="304.25" y2="624.25" stroke="#1a1a1a" stroke-width="0.85"/>
<text transform="translate(298.65,626.85) scale(1.1,1)" font-size="7.5" text-anchor="end">0</text>
<text transform="translate(277,575) rotate(-90)" font-size="8.2" text-anchor="middle" textLength="58.25" lengthAdjust="spacingAndGlyphs" y="2.3" class="t">Luminescence (RLU)</text>
<line x1="312.8" y1="624.25" x2="312.8" y2="627.05" stroke="#1a1a1a" stroke-width="0.8"/>
<text transform="translate(312.8,637) scale(1.1,1)" font-size="7.5" text-anchor="middle">0</text>
<line x1="327.35" y1="624.25" x2="327.35" y2="627.05" stroke="#1a1a1a" stroke-width="0.8"/>
<text transform="translate(327.35,637) scale(1.1,1)" font-size="7.5" text-anchor="middle">0.1</text>
<line x1="341.9" y1="624.25" x2="341.9" y2="627.05" stroke="#1a1a1a" stroke-width="0.8"/>
<text transform="translate(341.9,637) scale(1.1,1)" font-size="7.5" text-anchor="middle">1</text>
<line x1="356.45" y1="624.25" x2="356.45" y2="627.05" stroke="#1a1a1a" stroke-width="0.8"/>
<text transform="translate(356.45,637) scale(1.1,1)" font-size="7.5" text-anchor="middle">10</text>
<line x1="371" y1="624.25" x2="371" y2="627.05" stroke="#1a1a1a" stroke-width="0.8"/>
<text transform="translate(371,637) scale(1.1,1)" font-size="7.5" text-anchor="middle">0</text>
<line x1="385.55" y1="624.25" x2="385.55" y2="627.05" stroke="#1a1a1a" stroke-width="0.8"/>
<text transform="translate(385.55,637) scale(1.1,1)" font-size="7.5" text-anchor="middle">0.1</text>
<line x1="400.1" y1="624.25" x2="400.1" y2="627.05" stroke="#1a1a1a" stroke-width="0.8"/>
<text transform="translate(400.1,637) scale(1.1,1)" font-size="7.5" text-anchor="middle">1</text>
<line x1="414.65" y1="624.25" x2="414.65" y2="627.05" stroke="#1a1a1a" stroke-width="0.8"/>
<text transform="translate(414.65,637) scale(1.1,1)" font-size="7.5" text-anchor="middle">10</text>
<line x1="429.2" y1="624.25" x2="429.2" y2="627.05" stroke="#1a1a1a" stroke-width="0.8"/>
<text transform="translate(429.2,637) scale(1.1,1)" font-size="7.5" text-anchor="middle">0</text>
<line x1="443.75" y1="624.25" x2="443.75" y2="627.05" stroke="#1a1a1a" stroke-width="0.8"/>
<text transform="translate(443.75,637) scale(1.1,1)" font-size="7.5" text-anchor="middle">0.1</text>
<line x1="458.3" y1="624.25" x2="458.3" y2="627.05" stroke="#1a1a1a" stroke-width="0.8"/>
<text transform="translate(458.3,637) scale(1.1,1)" font-size="7.5" text-anchor="middle">1</text>
<line x1="472.85" y1="624.25" x2="472.85" y2="627.05" stroke="#1a1a1a" stroke-width="0.8"/>
<text transform="translate(472.85,637) scale(1.1,1)" font-size="7.5" text-anchor="middle">10</text>
<g fill="#000">
<line x1="312.8" y1="538.5" x2="312.8" y2="545.5" stroke="#000" stroke-width="0.85"/>
<line x1="309.4" y1="538.5" x2="316.2" y2="538.5" stroke="#000" stroke-width="0.85"/>
<line x1="309.4" y1="545.5" x2="316.2" y2="545.5" stroke="#000" stroke-width="0.85"/>
<circle cx="313" cy="533.1" r="1.28"/>
<circle cx="312.8" cy="544.2" r="1.28"/>
<circle cx="312.6" cy="553.4" r="1.28"/>
<line x1="327.35" y1="547.55" x2="327.35" y2="548.95" stroke="#000" stroke-width="0.85"/>
<line x1="323.95" y1="547.55" x2="330.75" y2="547.55" stroke="#000" stroke-width="0.85"/>
<line x1="323.95" y1="548.95" x2="330.75" y2="548.95" stroke="#000" stroke-width="0.85"/>
<circle cx="327.35" cy="546.4" r="1.28"/>
<circle cx="327.65" cy="547.8" r="1.28"/>
<circle cx="327.05" cy="549" r="1.28"/>
<line x1="341.9" y1="543.95" x2="341.9" y2="549.55" stroke="#000" stroke-width="0.85"/>
<line x1="338.5" y1="543.95" x2="345.3" y2="543.95" stroke="#000" stroke-width="0.85"/>
<line x1="338.5" y1="549.55" x2="345.3" y2="549.55" stroke="#000" stroke-width="0.85"/>
<circle cx="341.9" cy="538.3" r="1.28"/>
<circle cx="342.1" cy="547" r="1.28"/>
<circle cx="341.9" cy="556" r="1.28"/>
<line x1="356.45" y1="548.6" x2="356.45" y2="552.4" stroke="#000" stroke-width="0.85"/>
<line x1="353.05" y1="548.6" x2="359.85" y2="548.6" stroke="#000" stroke-width="0.85"/>
<line x1="353.05" y1="552.4" x2="359.85" y2="552.4" stroke="#000" stroke-width="0.85"/>
<circle cx="356.85" cy="545.2" r="1.28"/>
<circle cx="356.45" cy="551.1" r="1.28"/>
<circle cx="356.25" cy="555.6" r="1.28"/>
<line x1="371" y1="580.7" x2="371" y2="584.3" stroke="#000" stroke-width="0.85"/>
<line x1="367.6" y1="580.7" x2="374.4" y2="580.7" stroke="#000" stroke-width="0.85"/>
<line x1="367.6" y1="584.3" x2="374.4" y2="584.3" stroke="#000" stroke-width="0.85"/>
<circle cx="371.3" cy="579.3" r="1.28"/>
<circle cx="371" cy="583.6" r="1.28"/>
<circle cx="370.8" cy="586.7" r="1.28"/>
<line x1="385.55" y1="577.75" x2="385.55" y2="579.75" stroke="#000" stroke-width="0.85"/>
<line x1="382.15" y1="577.75" x2="388.95" y2="577.75" stroke="#000" stroke-width="0.85"/>
<line x1="382.15" y1="579.75" x2="388.95" y2="579.75" stroke="#000" stroke-width="0.85"/>
<circle cx="385.55" cy="577.1" r="1.28"/>
<circle cx="385.85" cy="579.3" r="1.28"/>
<circle cx="385.25" cy="581" r="1.28"/>
<line x1="400.1" y1="581.35" x2="400.1" y2="586.15" stroke="#000" stroke-width="0.85"/>
<line x1="396.7" y1="581.35" x2="403.5" y2="581.35" stroke="#000" stroke-width="0.85"/>
<line x1="396.7" y1="586.15" x2="403.5" y2="586.15" stroke="#000" stroke-width="0.85"/>
<circle cx="400.1" cy="575.9" r="1.28"/>
<circle cx="400.3" cy="584.2" r="1.28"/>
<circle cx="399.9" cy="591.1" r="1.28"/>
<line x1="414.65" y1="590.8" x2="414.65" y2="594.2" stroke="#000" stroke-width="0.85"/>
<line x1="411.25" y1="590.8" x2="418.05" y2="590.8" stroke="#000" stroke-width="0.85"/>
<line x1="411.25" y1="594.2" x2="418.05" y2="594.2" stroke="#000" stroke-width="0.85"/>
<circle cx="414.85" cy="587.3" r="1.28"/>
<circle cx="414.65" cy="592.9" r="1.28"/>
<circle cx="414.85" cy="595.5" r="1.28"/>
<line x1="429.2" y1="609" x2="429.2" y2="612" stroke="#000" stroke-width="0.85"/>
<line x1="425.8" y1="609" x2="432.6" y2="609" stroke="#000" stroke-width="0.85"/>
<line x1="425.8" y1="612" x2="432.6" y2="612" stroke="#000" stroke-width="0.85"/>
<circle cx="429.2" cy="607.1" r="1.28"/>
<circle cx="429.4" cy="610.2" r="1.28"/>
<circle cx="429" cy="612.8" r="1.28"/>
<line x1="443.75" y1="605.8" x2="443.75" y2="609.2" stroke="#000" stroke-width="0.85"/>
<line x1="440.35" y1="605.8" x2="447.15" y2="605.8" stroke="#000" stroke-width="0.85"/>
<line x1="440.35" y1="609.2" x2="447.15" y2="609.2" stroke="#000" stroke-width="0.85"/>
<circle cx="443.55" cy="603.6" r="1.28"/>
<circle cx="443.75" cy="607.6" r="1.28"/>
<circle cx="443.95" cy="610.5" r="1.28"/>
<line x1="458.3" y1="606.15" x2="458.3" y2="611.35" stroke="#000" stroke-width="0.85"/>
<line x1="454.9" y1="606.15" x2="461.7" y2="606.15" stroke="#000" stroke-width="0.85"/>
<line x1="454.9" y1="611.35" x2="461.7" y2="611.35" stroke="#000" stroke-width="0.85"/>
<circle cx="458.6" cy="603.3" r="1.28"/>
<circle cx="458.3" cy="609.3" r="1.28"/>
<circle cx="458.3" cy="616.2" r="1.28"/>
<line x1="472.85" y1="614.65" x2="472.85" y2="616.85" stroke="#000" stroke-width="0.85"/>
<line x1="469.45" y1="614.65" x2="476.25" y2="614.65" stroke="#000" stroke-width="0.85"/>
<line x1="469.45" y1="616.85" x2="476.25" y2="616.85" stroke="#000" stroke-width="0.85"/>
<circle cx="473.15" cy="613.3" r="1.28"/>
<circle cx="472.85" cy="615.4" r="1.28"/>
<circle cx="472.65" cy="617.1" r="1.28"/>
</g>
<line x1="304.5" y1="641.75" x2="360.75" y2="641.75" stroke="#5c5c5c" stroke-width="1.45"/>
<text transform="translate(332.5,651.25) scale(1.1,1)" font-size="7.8" text-anchor="middle">HBSS</text>
<line x1="363.25" y1="641.75" x2="420" y2="641.75" stroke="#5c5c5c" stroke-width="1.45"/>
<text transform="translate(391.25,651.25) scale(1.1,1)" font-size="7.8" text-anchor="middle">AT</text>
<line x1="421.75" y1="641.75" x2="478" y2="641.75" stroke="#5c5c5c" stroke-width="1.45"/>
<text transform="translate(448,651.25) scale(1.1,1)" font-size="7.8" text-anchor="middle">rAT</text>
<text transform="translate(484.7,627.3) scale(1.03,1)" font-size="7" text-anchor="start">heparin</text>
<text transform="translate(484.7,636.6) scale(1.03,1)" font-size="7" text-anchor="start">(U/mL)</text>
<rect x="0.5" y="0.5" width="519" height="659" fill="none" stroke="#5a5a5a" stroke-width="1"/>
</svg></body></html>
